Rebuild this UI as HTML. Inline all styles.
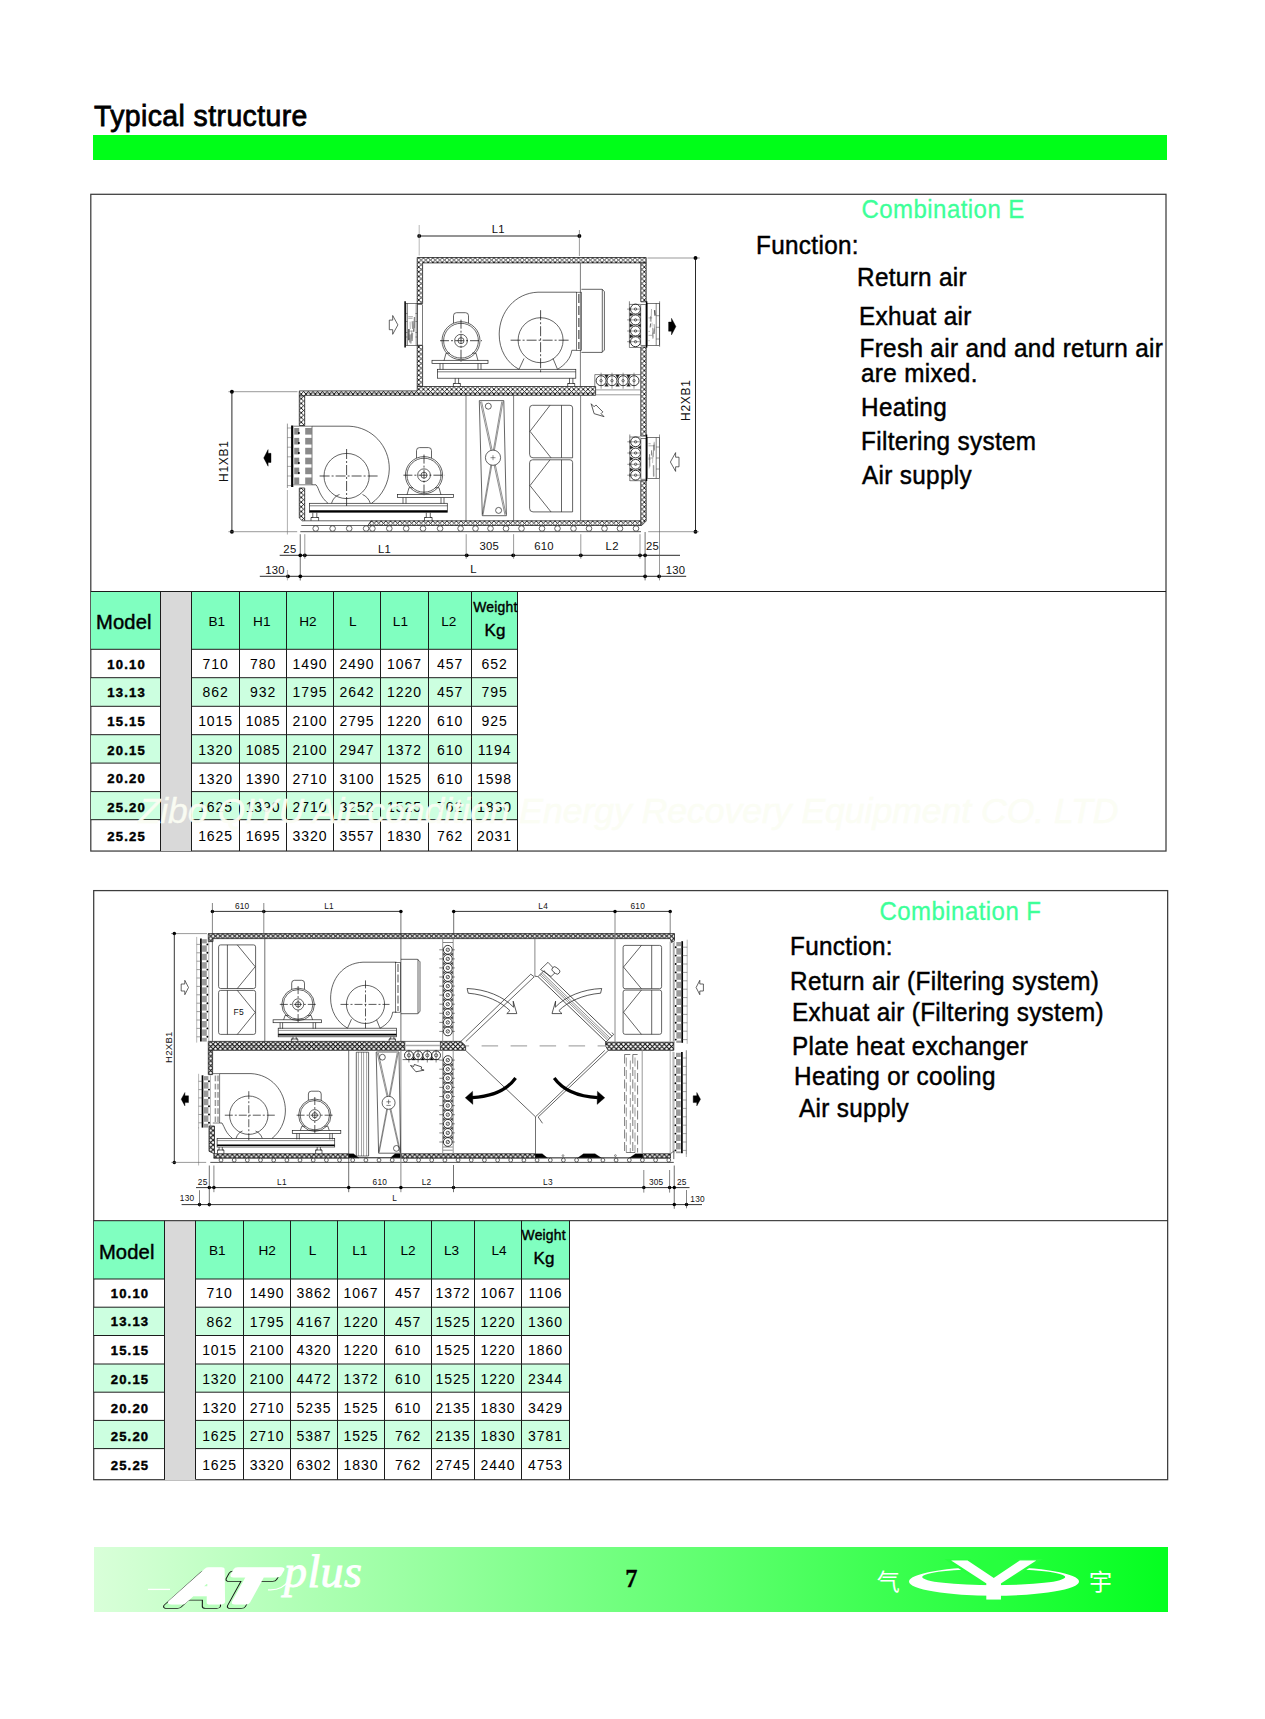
<!DOCTYPE html>
<html lang="en"><head><meta charset="utf-8"><title>Typical structure</title>
<style>
html,body{margin:0;padding:0;background:#fff;}
body{width:1265px;height:1719px;position:relative;overflow:hidden;font-family:"Liberation Sans","Noto Sans CJK SC",sans-serif;}
.t{position:absolute;white-space:nowrap;}
.r{position:absolute;}
svg{position:absolute;overflow:visible;}
svg text{font-family:"Liberation Sans",sans-serif;}
</style></head><body>
<div class="t" style="left:94.00px;top:99.70px;font-size:28.4px;line-height:32.63px;color:#000;-webkit-text-stroke:0.75px #000;letter-spacing:0.42px;transform:scaleY(1.05);transform-origin:0 78.76%;">Typical structure</div>
<div class="r" style="left:93px;top:135px;width:1074px;height:25px;background:#00fe18"></div>
<svg style="left:0;top:0" width="1265" height="1719" viewBox="0 0 1265 1719"><g fill="none" stroke="#3c3c3c" stroke-width="1.25"><rect x="90.8" y="194.3" width="1075.20" height="656.75"/><rect x="93.7" y="890.6" width="1073.95" height="589.10"/></g></svg>
<div class="r" style="left:90.8px;top:591.5px;width:69.7px;height:57.799999999999955px;background:#80ffc0"></div>
<div class="r" style="left:191.5px;top:591.5px;width:326.0px;height:57.799999999999955px;background:#80ffc0"></div>
<div class="r" style="left:160.5px;top:591.5px;width:31.0px;height:259.5px;background:#d9d9d9"></div>
<div class="r" style="left:90.8px;top:677.70px;width:69.7px;height:28.60px;background:#ccffe0"></div>
<div class="r" style="left:191.5px;top:677.70px;width:326.0px;height:28.60px;background:#ccffe0"></div>
<div class="r" style="left:90.8px;top:734.70px;width:69.7px;height:28.40px;background:#ccffe0"></div>
<div class="r" style="left:191.5px;top:734.70px;width:326.0px;height:28.40px;background:#ccffe0"></div>
<div class="r" style="left:90.8px;top:791.60px;width:69.7px;height:28.10px;background:#ccffe0"></div>
<div class="r" style="left:191.5px;top:791.60px;width:326.0px;height:28.10px;background:#ccffe0"></div>
<svg style="left:0;top:0" width="1265" height="1719" viewBox="0 0 1265 1719"><g stroke="#1c1c1c" stroke-width="1" fill="none"><path d="M90.8 591.5H1166"/><path d="M90.8 649.30H160.5M191.5 649.30H517.5"/><path d="M90.8 677.70H160.5M191.5 677.70H517.5"/><path d="M90.8 706.30H160.5M191.5 706.30H517.5"/><path d="M90.8 734.70H160.5M191.5 734.70H517.5"/><path d="M90.8 763.10H160.5M191.5 763.10H517.5"/><path d="M90.8 791.60H160.5M191.5 791.60H517.5"/><path d="M90.8 819.70H160.5M191.5 819.70H517.5"/><path d="M160.5 591.5V851"/><path d="M191.5 591.5V851"/><path d="M239.5 591.5V851"/><path d="M286.5 591.5V851"/><path d="M333.5 591.5V851"/><path d="M380.5 591.5V851"/><path d="M428.5 591.5V851"/><path d="M471.5 591.5V851"/><path d="M517.5 591.5V851"/></g></svg>
<div class="t" style="left:96.00px;top:611.12px;font-size:20.2px;line-height:23.21px;color:#000;-webkit-text-stroke:0.45px #000;letter-spacing:0.15px;">Model</div>
<div class="t" style="left:-83.30px;width:600px;text-align:center;top:614.49px;font-size:13.6px;line-height:15.63px;color:#000;">B1</div>
<div class="t" style="left:-38.20px;width:600px;text-align:center;top:614.49px;font-size:13.6px;line-height:15.63px;color:#000;">H1</div>
<div class="t" style="left:8.00px;width:600px;text-align:center;top:614.49px;font-size:13.6px;line-height:15.63px;color:#000;">H2</div>
<div class="t" style="left:52.70px;width:600px;text-align:center;top:614.49px;font-size:13.6px;line-height:15.63px;color:#000;">L</div>
<div class="t" style="left:100.40px;width:600px;text-align:center;top:614.49px;font-size:13.6px;line-height:15.63px;color:#000;">L1</div>
<div class="t" style="left:148.70px;width:600px;text-align:center;top:614.49px;font-size:13.6px;line-height:15.63px;color:#000;">L2</div>
<div class="t" style="left:473.30px;top:599.52px;font-size:13.9px;line-height:15.97px;color:#000;-webkit-text-stroke:0.4px #000;letter-spacing:0.2px;">Weight</div>
<div class="t" style="left:484.60px;top:620.82px;font-size:17px;line-height:19.53px;color:#000;-webkit-text-stroke:0.4px #000;">Kg</div>
<div class="t" style="left:-173.45px;width:600px;text-align:center;top:656.54px;font-size:13.1px;line-height:15.05px;color:#000;-webkit-text-stroke:0.42px #000;font-weight:bold;letter-spacing:1.15px;">10.10</div>
<div class="t" style="left:-84.40px;width:600px;text-align:center;top:655.73px;font-size:14px;line-height:16.09px;color:#000;letter-spacing:0.95px;">710</div>
<div class="t" style="left:-36.90px;width:600px;text-align:center;top:655.73px;font-size:14px;line-height:16.09px;color:#000;letter-spacing:0.95px;">780</div>
<div class="t" style="left:10.10px;width:600px;text-align:center;top:655.73px;font-size:14px;line-height:16.09px;color:#000;letter-spacing:0.95px;">1490</div>
<div class="t" style="left:57.10px;width:600px;text-align:center;top:655.73px;font-size:14px;line-height:16.09px;color:#000;letter-spacing:0.95px;">2490</div>
<div class="t" style="left:104.60px;width:600px;text-align:center;top:655.73px;font-size:14px;line-height:16.09px;color:#000;letter-spacing:0.95px;">1067</div>
<div class="t" style="left:150.10px;width:600px;text-align:center;top:655.73px;font-size:14px;line-height:16.09px;color:#000;letter-spacing:0.95px;">457</div>
<div class="t" style="left:194.60px;width:600px;text-align:center;top:655.73px;font-size:14px;line-height:16.09px;color:#000;letter-spacing:0.95px;">652</div>
<div class="t" style="left:-173.45px;width:600px;text-align:center;top:685.24px;font-size:13.1px;line-height:15.05px;color:#000;-webkit-text-stroke:0.42px #000;font-weight:bold;letter-spacing:1.15px;">13.13</div>
<div class="t" style="left:-84.40px;width:600px;text-align:center;top:684.43px;font-size:14px;line-height:16.09px;color:#000;letter-spacing:0.95px;">862</div>
<div class="t" style="left:-36.90px;width:600px;text-align:center;top:684.43px;font-size:14px;line-height:16.09px;color:#000;letter-spacing:0.95px;">932</div>
<div class="t" style="left:10.10px;width:600px;text-align:center;top:684.43px;font-size:14px;line-height:16.09px;color:#000;letter-spacing:0.95px;">1795</div>
<div class="t" style="left:57.10px;width:600px;text-align:center;top:684.43px;font-size:14px;line-height:16.09px;color:#000;letter-spacing:0.95px;">2642</div>
<div class="t" style="left:104.60px;width:600px;text-align:center;top:684.43px;font-size:14px;line-height:16.09px;color:#000;letter-spacing:0.95px;">1220</div>
<div class="t" style="left:150.10px;width:600px;text-align:center;top:684.43px;font-size:14px;line-height:16.09px;color:#000;letter-spacing:0.95px;">457</div>
<div class="t" style="left:194.60px;width:600px;text-align:center;top:684.43px;font-size:14px;line-height:16.09px;color:#000;letter-spacing:0.95px;">795</div>
<div class="t" style="left:-173.45px;width:600px;text-align:center;top:713.94px;font-size:13.1px;line-height:15.05px;color:#000;-webkit-text-stroke:0.42px #000;font-weight:bold;letter-spacing:1.15px;">15.15</div>
<div class="t" style="left:-84.40px;width:600px;text-align:center;top:713.13px;font-size:14px;line-height:16.09px;color:#000;letter-spacing:0.95px;">1015</div>
<div class="t" style="left:-36.90px;width:600px;text-align:center;top:713.13px;font-size:14px;line-height:16.09px;color:#000;letter-spacing:0.95px;">1085</div>
<div class="t" style="left:10.10px;width:600px;text-align:center;top:713.13px;font-size:14px;line-height:16.09px;color:#000;letter-spacing:0.95px;">2100</div>
<div class="t" style="left:57.10px;width:600px;text-align:center;top:713.13px;font-size:14px;line-height:16.09px;color:#000;letter-spacing:0.95px;">2795</div>
<div class="t" style="left:104.60px;width:600px;text-align:center;top:713.13px;font-size:14px;line-height:16.09px;color:#000;letter-spacing:0.95px;">1220</div>
<div class="t" style="left:150.10px;width:600px;text-align:center;top:713.13px;font-size:14px;line-height:16.09px;color:#000;letter-spacing:0.95px;">610</div>
<div class="t" style="left:194.60px;width:600px;text-align:center;top:713.13px;font-size:14px;line-height:16.09px;color:#000;letter-spacing:0.95px;">925</div>
<div class="t" style="left:-173.45px;width:600px;text-align:center;top:742.64px;font-size:13.1px;line-height:15.05px;color:#000;-webkit-text-stroke:0.42px #000;font-weight:bold;letter-spacing:1.15px;">20.15</div>
<div class="t" style="left:-84.40px;width:600px;text-align:center;top:741.83px;font-size:14px;line-height:16.09px;color:#000;letter-spacing:0.95px;">1320</div>
<div class="t" style="left:-36.90px;width:600px;text-align:center;top:741.83px;font-size:14px;line-height:16.09px;color:#000;letter-spacing:0.95px;">1085</div>
<div class="t" style="left:10.10px;width:600px;text-align:center;top:741.83px;font-size:14px;line-height:16.09px;color:#000;letter-spacing:0.95px;">2100</div>
<div class="t" style="left:57.10px;width:600px;text-align:center;top:741.83px;font-size:14px;line-height:16.09px;color:#000;letter-spacing:0.95px;">2947</div>
<div class="t" style="left:104.60px;width:600px;text-align:center;top:741.83px;font-size:14px;line-height:16.09px;color:#000;letter-spacing:0.95px;">1372</div>
<div class="t" style="left:150.10px;width:600px;text-align:center;top:741.83px;font-size:14px;line-height:16.09px;color:#000;letter-spacing:0.95px;">610</div>
<div class="t" style="left:194.60px;width:600px;text-align:center;top:741.83px;font-size:14px;line-height:16.09px;color:#000;letter-spacing:0.95px;">1194</div>
<div class="t" style="left:-173.45px;width:600px;text-align:center;top:771.34px;font-size:13.1px;line-height:15.05px;color:#000;-webkit-text-stroke:0.42px #000;font-weight:bold;letter-spacing:1.15px;">20.20</div>
<div class="t" style="left:-84.40px;width:600px;text-align:center;top:770.53px;font-size:14px;line-height:16.09px;color:#000;letter-spacing:0.95px;">1320</div>
<div class="t" style="left:-36.90px;width:600px;text-align:center;top:770.53px;font-size:14px;line-height:16.09px;color:#000;letter-spacing:0.95px;">1390</div>
<div class="t" style="left:10.10px;width:600px;text-align:center;top:770.53px;font-size:14px;line-height:16.09px;color:#000;letter-spacing:0.95px;">2710</div>
<div class="t" style="left:57.10px;width:600px;text-align:center;top:770.53px;font-size:14px;line-height:16.09px;color:#000;letter-spacing:0.95px;">3100</div>
<div class="t" style="left:104.60px;width:600px;text-align:center;top:770.53px;font-size:14px;line-height:16.09px;color:#000;letter-spacing:0.95px;">1525</div>
<div class="t" style="left:150.10px;width:600px;text-align:center;top:770.53px;font-size:14px;line-height:16.09px;color:#000;letter-spacing:0.95px;">610</div>
<div class="t" style="left:194.60px;width:600px;text-align:center;top:770.53px;font-size:14px;line-height:16.09px;color:#000;letter-spacing:0.95px;">1598</div>
<div class="t" style="left:-173.45px;width:600px;text-align:center;top:800.04px;font-size:13.1px;line-height:15.05px;color:#000;-webkit-text-stroke:0.42px #000;font-weight:bold;letter-spacing:1.15px;">25.20</div>
<div class="t" style="left:-84.40px;width:600px;text-align:center;top:799.23px;font-size:14px;line-height:16.09px;color:#000;letter-spacing:0.95px;">1625</div>
<div class="t" style="left:-36.90px;width:600px;text-align:center;top:799.23px;font-size:14px;line-height:16.09px;color:#000;letter-spacing:0.95px;">1390</div>
<div class="t" style="left:10.10px;width:600px;text-align:center;top:799.23px;font-size:14px;line-height:16.09px;color:#000;letter-spacing:0.95px;">2710</div>
<div class="t" style="left:57.10px;width:600px;text-align:center;top:799.23px;font-size:14px;line-height:16.09px;color:#000;letter-spacing:0.95px;">3252</div>
<div class="t" style="left:104.60px;width:600px;text-align:center;top:799.23px;font-size:14px;line-height:16.09px;color:#000;letter-spacing:0.95px;">1525</div>
<div class="t" style="left:150.10px;width:600px;text-align:center;top:799.23px;font-size:14px;line-height:16.09px;color:#000;letter-spacing:0.95px;">762</div>
<div class="t" style="left:194.60px;width:600px;text-align:center;top:799.23px;font-size:14px;line-height:16.09px;color:#000;letter-spacing:0.95px;">1830</div>
<div class="t" style="left:-173.45px;width:600px;text-align:center;top:828.74px;font-size:13.1px;line-height:15.05px;color:#000;-webkit-text-stroke:0.42px #000;font-weight:bold;letter-spacing:1.15px;">25.25</div>
<div class="t" style="left:-84.40px;width:600px;text-align:center;top:827.93px;font-size:14px;line-height:16.09px;color:#000;letter-spacing:0.95px;">1625</div>
<div class="t" style="left:-36.90px;width:600px;text-align:center;top:827.93px;font-size:14px;line-height:16.09px;color:#000;letter-spacing:0.95px;">1695</div>
<div class="t" style="left:10.10px;width:600px;text-align:center;top:827.93px;font-size:14px;line-height:16.09px;color:#000;letter-spacing:0.95px;">3320</div>
<div class="t" style="left:57.10px;width:600px;text-align:center;top:827.93px;font-size:14px;line-height:16.09px;color:#000;letter-spacing:0.95px;">3557</div>
<div class="t" style="left:104.60px;width:600px;text-align:center;top:827.93px;font-size:14px;line-height:16.09px;color:#000;letter-spacing:0.95px;">1830</div>
<div class="t" style="left:150.10px;width:600px;text-align:center;top:827.93px;font-size:14px;line-height:16.09px;color:#000;letter-spacing:0.95px;">762</div>
<div class="t" style="left:194.60px;width:600px;text-align:center;top:827.93px;font-size:14px;line-height:16.09px;color:#000;letter-spacing:0.95px;">2031</div>
<div class="r" style="left:93.7px;top:1220.7px;width:70.8px;height:58.299999999999955px;background:#80ffc0"></div>
<div class="r" style="left:195.5px;top:1220.7px;width:374.0px;height:58.299999999999955px;background:#80ffc0"></div>
<div class="r" style="left:164.5px;top:1220.7px;width:31.0px;height:258.89999999999986px;background:#d9d9d9"></div>
<div class="r" style="left:93.7px;top:1307.20px;width:70.8px;height:28.30px;background:#ccffe0"></div>
<div class="r" style="left:195.5px;top:1307.20px;width:374.0px;height:28.30px;background:#ccffe0"></div>
<div class="r" style="left:93.7px;top:1364.00px;width:70.8px;height:28.20px;background:#ccffe0"></div>
<div class="r" style="left:195.5px;top:1364.00px;width:374.0px;height:28.20px;background:#ccffe0"></div>
<div class="r" style="left:93.7px;top:1420.40px;width:70.8px;height:28.20px;background:#ccffe0"></div>
<div class="r" style="left:195.5px;top:1420.40px;width:374.0px;height:28.20px;background:#ccffe0"></div>
<svg style="left:0;top:0" width="1265" height="1719" viewBox="0 0 1265 1719"><g stroke="#1c1c1c" stroke-width="1" fill="none"><path d="M93.7 1220.7H1167.6"/><path d="M93.7 1279.00H164.5M195.5 1279.00H569.5"/><path d="M93.7 1307.20H164.5M195.5 1307.20H569.5"/><path d="M93.7 1335.50H164.5M195.5 1335.50H569.5"/><path d="M93.7 1364.00H164.5M195.5 1364.00H569.5"/><path d="M93.7 1392.20H164.5M195.5 1392.20H569.5"/><path d="M93.7 1420.40H164.5M195.5 1420.40H569.5"/><path d="M93.7 1448.60H164.5M195.5 1448.60H569.5"/><path d="M164.5 1220.7V1479.6"/><path d="M195.5 1220.7V1479.6"/><path d="M243.5 1220.7V1479.6"/><path d="M290.5 1220.7V1479.6"/><path d="M337.5 1220.7V1479.6"/><path d="M384.5 1220.7V1479.6"/><path d="M431.5 1220.7V1479.6"/><path d="M474.5 1220.7V1479.6"/><path d="M521.5 1220.7V1479.6"/><path d="M569.5 1220.7V1479.6"/></g></svg>
<div class="t" style="left:98.90px;top:1240.57px;font-size:20.2px;line-height:23.21px;color:#000;-webkit-text-stroke:0.45px #000;letter-spacing:0.15px;">Model</div>
<div class="t" style="left:-82.70px;width:600px;text-align:center;top:1243.19px;font-size:13.6px;line-height:15.63px;color:#000;">B1</div>
<div class="t" style="left:-32.90px;width:600px;text-align:center;top:1243.19px;font-size:13.6px;line-height:15.63px;color:#000;">H2</div>
<div class="t" style="left:12.50px;width:600px;text-align:center;top:1243.19px;font-size:13.6px;line-height:15.63px;color:#000;">L</div>
<div class="t" style="left:59.80px;width:600px;text-align:center;top:1243.19px;font-size:13.6px;line-height:15.63px;color:#000;">L1</div>
<div class="t" style="left:108.00px;width:600px;text-align:center;top:1243.19px;font-size:13.6px;line-height:15.63px;color:#000;">L2</div>
<div class="t" style="left:151.60px;width:600px;text-align:center;top:1243.19px;font-size:13.6px;line-height:15.63px;color:#000;">L3</div>
<div class="t" style="left:199.10px;width:600px;text-align:center;top:1243.19px;font-size:13.6px;line-height:15.63px;color:#000;">L4</div>
<div class="t" style="left:521.60px;top:1228.02px;font-size:13.9px;line-height:15.97px;color:#000;-webkit-text-stroke:0.4px #000;letter-spacing:0.2px;">Weight</div>
<div class="t" style="left:533.60px;top:1248.91px;font-size:17px;line-height:19.53px;color:#000;-webkit-text-stroke:0.4px #000;">Kg</div>
<div class="t" style="left:-170.00px;width:600px;text-align:center;top:1285.64px;font-size:13.1px;line-height:15.05px;color:#000;-webkit-text-stroke:0.42px #000;font-weight:bold;letter-spacing:1.15px;">10.10</div>
<div class="t" style="left:-80.40px;width:600px;text-align:center;top:1284.83px;font-size:14px;line-height:16.09px;color:#000;letter-spacing:0.95px;">710</div>
<div class="t" style="left:-32.90px;width:600px;text-align:center;top:1284.83px;font-size:14px;line-height:16.09px;color:#000;letter-spacing:0.95px;">1490</div>
<div class="t" style="left:14.10px;width:600px;text-align:center;top:1284.83px;font-size:14px;line-height:16.09px;color:#000;letter-spacing:0.95px;">3862</div>
<div class="t" style="left:61.10px;width:600px;text-align:center;top:1284.83px;font-size:14px;line-height:16.09px;color:#000;letter-spacing:0.95px;">1067</div>
<div class="t" style="left:108.10px;width:600px;text-align:center;top:1284.83px;font-size:14px;line-height:16.09px;color:#000;letter-spacing:0.95px;">457</div>
<div class="t" style="left:153.10px;width:600px;text-align:center;top:1284.83px;font-size:14px;line-height:16.09px;color:#000;letter-spacing:0.95px;">1372</div>
<div class="t" style="left:198.10px;width:600px;text-align:center;top:1284.83px;font-size:14px;line-height:16.09px;color:#000;letter-spacing:0.95px;">1067</div>
<div class="t" style="left:245.60px;width:600px;text-align:center;top:1284.83px;font-size:14px;line-height:16.09px;color:#000;letter-spacing:0.95px;">1106</div>
<div class="t" style="left:-170.00px;width:600px;text-align:center;top:1314.36px;font-size:13.1px;line-height:15.05px;color:#000;-webkit-text-stroke:0.42px #000;font-weight:bold;letter-spacing:1.15px;">13.13</div>
<div class="t" style="left:-80.40px;width:600px;text-align:center;top:1313.55px;font-size:14px;line-height:16.09px;color:#000;letter-spacing:0.95px;">862</div>
<div class="t" style="left:-32.90px;width:600px;text-align:center;top:1313.55px;font-size:14px;line-height:16.09px;color:#000;letter-spacing:0.95px;">1795</div>
<div class="t" style="left:14.10px;width:600px;text-align:center;top:1313.55px;font-size:14px;line-height:16.09px;color:#000;letter-spacing:0.95px;">4167</div>
<div class="t" style="left:61.10px;width:600px;text-align:center;top:1313.55px;font-size:14px;line-height:16.09px;color:#000;letter-spacing:0.95px;">1220</div>
<div class="t" style="left:108.10px;width:600px;text-align:center;top:1313.55px;font-size:14px;line-height:16.09px;color:#000;letter-spacing:0.95px;">457</div>
<div class="t" style="left:153.10px;width:600px;text-align:center;top:1313.55px;font-size:14px;line-height:16.09px;color:#000;letter-spacing:0.95px;">1525</div>
<div class="t" style="left:198.10px;width:600px;text-align:center;top:1313.55px;font-size:14px;line-height:16.09px;color:#000;letter-spacing:0.95px;">1220</div>
<div class="t" style="left:245.60px;width:600px;text-align:center;top:1313.55px;font-size:14px;line-height:16.09px;color:#000;letter-spacing:0.95px;">1360</div>
<div class="t" style="left:-170.00px;width:600px;text-align:center;top:1343.08px;font-size:13.1px;line-height:15.05px;color:#000;-webkit-text-stroke:0.42px #000;font-weight:bold;letter-spacing:1.15px;">15.15</div>
<div class="t" style="left:-80.40px;width:600px;text-align:center;top:1342.27px;font-size:14px;line-height:16.09px;color:#000;letter-spacing:0.95px;">1015</div>
<div class="t" style="left:-32.90px;width:600px;text-align:center;top:1342.27px;font-size:14px;line-height:16.09px;color:#000;letter-spacing:0.95px;">2100</div>
<div class="t" style="left:14.10px;width:600px;text-align:center;top:1342.27px;font-size:14px;line-height:16.09px;color:#000;letter-spacing:0.95px;">4320</div>
<div class="t" style="left:61.10px;width:600px;text-align:center;top:1342.27px;font-size:14px;line-height:16.09px;color:#000;letter-spacing:0.95px;">1220</div>
<div class="t" style="left:108.10px;width:600px;text-align:center;top:1342.27px;font-size:14px;line-height:16.09px;color:#000;letter-spacing:0.95px;">610</div>
<div class="t" style="left:153.10px;width:600px;text-align:center;top:1342.27px;font-size:14px;line-height:16.09px;color:#000;letter-spacing:0.95px;">1525</div>
<div class="t" style="left:198.10px;width:600px;text-align:center;top:1342.27px;font-size:14px;line-height:16.09px;color:#000;letter-spacing:0.95px;">1220</div>
<div class="t" style="left:245.60px;width:600px;text-align:center;top:1342.27px;font-size:14px;line-height:16.09px;color:#000;letter-spacing:0.95px;">1860</div>
<div class="t" style="left:-170.00px;width:600px;text-align:center;top:1371.80px;font-size:13.1px;line-height:15.05px;color:#000;-webkit-text-stroke:0.42px #000;font-weight:bold;letter-spacing:1.15px;">20.15</div>
<div class="t" style="left:-80.40px;width:600px;text-align:center;top:1370.99px;font-size:14px;line-height:16.09px;color:#000;letter-spacing:0.95px;">1320</div>
<div class="t" style="left:-32.90px;width:600px;text-align:center;top:1370.99px;font-size:14px;line-height:16.09px;color:#000;letter-spacing:0.95px;">2100</div>
<div class="t" style="left:14.10px;width:600px;text-align:center;top:1370.99px;font-size:14px;line-height:16.09px;color:#000;letter-spacing:0.95px;">4472</div>
<div class="t" style="left:61.10px;width:600px;text-align:center;top:1370.99px;font-size:14px;line-height:16.09px;color:#000;letter-spacing:0.95px;">1372</div>
<div class="t" style="left:108.10px;width:600px;text-align:center;top:1370.99px;font-size:14px;line-height:16.09px;color:#000;letter-spacing:0.95px;">610</div>
<div class="t" style="left:153.10px;width:600px;text-align:center;top:1370.99px;font-size:14px;line-height:16.09px;color:#000;letter-spacing:0.95px;">1525</div>
<div class="t" style="left:198.10px;width:600px;text-align:center;top:1370.99px;font-size:14px;line-height:16.09px;color:#000;letter-spacing:0.95px;">1220</div>
<div class="t" style="left:245.60px;width:600px;text-align:center;top:1370.99px;font-size:14px;line-height:16.09px;color:#000;letter-spacing:0.95px;">2344</div>
<div class="t" style="left:-170.00px;width:600px;text-align:center;top:1400.52px;font-size:13.1px;line-height:15.05px;color:#000;-webkit-text-stroke:0.42px #000;font-weight:bold;letter-spacing:1.15px;">20.20</div>
<div class="t" style="left:-80.40px;width:600px;text-align:center;top:1399.71px;font-size:14px;line-height:16.09px;color:#000;letter-spacing:0.95px;">1320</div>
<div class="t" style="left:-32.90px;width:600px;text-align:center;top:1399.71px;font-size:14px;line-height:16.09px;color:#000;letter-spacing:0.95px;">2710</div>
<div class="t" style="left:14.10px;width:600px;text-align:center;top:1399.71px;font-size:14px;line-height:16.09px;color:#000;letter-spacing:0.95px;">5235</div>
<div class="t" style="left:61.10px;width:600px;text-align:center;top:1399.71px;font-size:14px;line-height:16.09px;color:#000;letter-spacing:0.95px;">1525</div>
<div class="t" style="left:108.10px;width:600px;text-align:center;top:1399.71px;font-size:14px;line-height:16.09px;color:#000;letter-spacing:0.95px;">610</div>
<div class="t" style="left:153.10px;width:600px;text-align:center;top:1399.71px;font-size:14px;line-height:16.09px;color:#000;letter-spacing:0.95px;">2135</div>
<div class="t" style="left:198.10px;width:600px;text-align:center;top:1399.71px;font-size:14px;line-height:16.09px;color:#000;letter-spacing:0.95px;">1830</div>
<div class="t" style="left:245.60px;width:600px;text-align:center;top:1399.71px;font-size:14px;line-height:16.09px;color:#000;letter-spacing:0.95px;">3429</div>
<div class="t" style="left:-170.00px;width:600px;text-align:center;top:1429.24px;font-size:13.1px;line-height:15.05px;color:#000;-webkit-text-stroke:0.42px #000;font-weight:bold;letter-spacing:1.15px;">25.20</div>
<div class="t" style="left:-80.40px;width:600px;text-align:center;top:1428.43px;font-size:14px;line-height:16.09px;color:#000;letter-spacing:0.95px;">1625</div>
<div class="t" style="left:-32.90px;width:600px;text-align:center;top:1428.43px;font-size:14px;line-height:16.09px;color:#000;letter-spacing:0.95px;">2710</div>
<div class="t" style="left:14.10px;width:600px;text-align:center;top:1428.43px;font-size:14px;line-height:16.09px;color:#000;letter-spacing:0.95px;">5387</div>
<div class="t" style="left:61.10px;width:600px;text-align:center;top:1428.43px;font-size:14px;line-height:16.09px;color:#000;letter-spacing:0.95px;">1525</div>
<div class="t" style="left:108.10px;width:600px;text-align:center;top:1428.43px;font-size:14px;line-height:16.09px;color:#000;letter-spacing:0.95px;">762</div>
<div class="t" style="left:153.10px;width:600px;text-align:center;top:1428.43px;font-size:14px;line-height:16.09px;color:#000;letter-spacing:0.95px;">2135</div>
<div class="t" style="left:198.10px;width:600px;text-align:center;top:1428.43px;font-size:14px;line-height:16.09px;color:#000;letter-spacing:0.95px;">1830</div>
<div class="t" style="left:245.60px;width:600px;text-align:center;top:1428.43px;font-size:14px;line-height:16.09px;color:#000;letter-spacing:0.95px;">3781</div>
<div class="t" style="left:-170.00px;width:600px;text-align:center;top:1457.96px;font-size:13.1px;line-height:15.05px;color:#000;-webkit-text-stroke:0.42px #000;font-weight:bold;letter-spacing:1.15px;">25.25</div>
<div class="t" style="left:-80.40px;width:600px;text-align:center;top:1457.15px;font-size:14px;line-height:16.09px;color:#000;letter-spacing:0.95px;">1625</div>
<div class="t" style="left:-32.90px;width:600px;text-align:center;top:1457.15px;font-size:14px;line-height:16.09px;color:#000;letter-spacing:0.95px;">3320</div>
<div class="t" style="left:14.10px;width:600px;text-align:center;top:1457.15px;font-size:14px;line-height:16.09px;color:#000;letter-spacing:0.95px;">6302</div>
<div class="t" style="left:61.10px;width:600px;text-align:center;top:1457.15px;font-size:14px;line-height:16.09px;color:#000;letter-spacing:0.95px;">1830</div>
<div class="t" style="left:108.10px;width:600px;text-align:center;top:1457.15px;font-size:14px;line-height:16.09px;color:#000;letter-spacing:0.95px;">762</div>
<div class="t" style="left:153.10px;width:600px;text-align:center;top:1457.15px;font-size:14px;line-height:16.09px;color:#000;letter-spacing:0.95px;">2745</div>
<div class="t" style="left:198.10px;width:600px;text-align:center;top:1457.15px;font-size:14px;line-height:16.09px;color:#000;letter-spacing:0.95px;">2440</div>
<div class="t" style="left:245.60px;width:600px;text-align:center;top:1457.15px;font-size:14px;line-height:16.09px;color:#000;letter-spacing:0.95px;">4753</div>
<div class="t" style="left:861.50px;top:196.08px;font-size:24px;line-height:27.58px;color:#3dff99;-webkit-text-stroke:0.3px #3dff99;letter-spacing:0.45px;transform:scaleY(1.085);transform-origin:0 78.76%;">Combination E</div>
<div class="t" style="left:756.00px;top:231.61px;font-size:24.3px;line-height:27.92px;color:#000;-webkit-text-stroke:0.45px #000;letter-spacing:0.33px;transform:scaleY(1.06);transform-origin:0 78.76%;">Function:</div>
<div class="t" style="left:857.00px;top:263.61px;font-size:24.3px;line-height:27.92px;color:#000;-webkit-text-stroke:0.45px #000;letter-spacing:0.33px;transform:scaleY(1.06);transform-origin:0 78.76%;">Return air</div>
<div class="t" style="left:859.00px;top:302.61px;font-size:24.3px;line-height:27.92px;color:#000;-webkit-text-stroke:0.45px #000;letter-spacing:0.33px;transform:scaleY(1.06);transform-origin:0 78.76%;">Exhuat air</div>
<div class="t" style="left:859.50px;top:335.01px;font-size:24.3px;line-height:27.92px;color:#000;-webkit-text-stroke:0.45px #000;letter-spacing:0.33px;transform:scaleY(1.06);transform-origin:0 78.76%;">Fresh air and and return air</div>
<div class="t" style="left:861.00px;top:360.01px;font-size:24.3px;line-height:27.92px;color:#000;-webkit-text-stroke:0.45px #000;letter-spacing:0.33px;transform:scaleY(1.06);transform-origin:0 78.76%;">are mixed.</div>
<div class="t" style="left:861.00px;top:394.01px;font-size:24.3px;line-height:27.92px;color:#000;-webkit-text-stroke:0.45px #000;letter-spacing:0.33px;transform:scaleY(1.06);transform-origin:0 78.76%;">Heating</div>
<div class="t" style="left:861.00px;top:428.01px;font-size:24.3px;line-height:27.92px;color:#000;-webkit-text-stroke:0.45px #000;letter-spacing:0.33px;transform:scaleY(1.06);transform-origin:0 78.76%;">Filtering system</div>
<div class="t" style="left:862.00px;top:462.01px;font-size:24.3px;line-height:27.92px;color:#000;-webkit-text-stroke:0.45px #000;letter-spacing:0.33px;transform:scaleY(1.06);transform-origin:0 78.76%;">Air supply</div>
<div class="t" style="left:879.50px;top:898.28px;font-size:24px;line-height:27.58px;color:#3dff99;-webkit-text-stroke:0.3px #3dff99;letter-spacing:0.45px;transform:scaleY(1.085);transform-origin:0 78.76%;">Combination F</div>
<div class="t" style="left:790.00px;top:933.01px;font-size:24.3px;line-height:27.92px;color:#000;-webkit-text-stroke:0.45px #000;letter-spacing:0.33px;transform:scaleY(1.06);transform-origin:0 78.76%;">Function:</div>
<div class="t" style="left:790.00px;top:967.51px;font-size:24.3px;line-height:27.92px;color:#000;-webkit-text-stroke:0.45px #000;letter-spacing:0.33px;transform:scaleY(1.06);transform-origin:0 78.76%;">Return air (Filtering system)</div>
<div class="t" style="left:792.00px;top:998.51px;font-size:24.3px;line-height:27.92px;color:#000;-webkit-text-stroke:0.45px #000;letter-spacing:0.33px;transform:scaleY(1.06);transform-origin:0 78.76%;">Exhuat air (Filtering system)</div>
<div class="t" style="left:792.00px;top:1032.51px;font-size:24.3px;line-height:27.92px;color:#000;-webkit-text-stroke:0.45px #000;letter-spacing:0.33px;transform:scaleY(1.06);transform-origin:0 78.76%;">Plate heat exchanger</div>
<div class="t" style="left:794.00px;top:1062.51px;font-size:24.3px;line-height:27.92px;color:#000;-webkit-text-stroke:0.45px #000;letter-spacing:0.33px;transform:scaleY(1.06);transform-origin:0 78.76%;">Heating or cooling</div>
<div class="t" style="left:799.00px;top:1094.51px;font-size:24.3px;line-height:27.92px;color:#000;-webkit-text-stroke:0.45px #000;letter-spacing:0.33px;transform:scaleY(1.06);transform-origin:0 78.76%;">Air supply</div>
<div class="t" style="left:138.50px;top:791.37px;font-size:35.5px;line-height:40.79px;color:#fbfdf4;-webkit-text-stroke:0.35px #fbfdf4;font-style:italic;opacity:.95;">Zibo QIYU Air-condition Energy Recovery Equipment CO. LTD</div>
<div class="r" style="left:94px;top:1547.4px;width:1074px;height:64.8px;background:linear-gradient(90deg,#d9ffd9,#04ff20)"></div>
<div class="t" style="left:331.30px;width:600px;text-align:center;top:1564.82px;font-size:24.4px;line-height:28.04px;color:#000;-webkit-text-stroke:0.3px #000;font-weight:bold;font-family:'Liberation Serif',serif;">7</div>
<svg style="left:0;top:0" width="1265" height="1719" viewBox="0 0 1265 1719" fill="none" stroke-linecap="butt">
<defs><pattern id="hx" width="4.7" height="4.7" patternUnits="userSpaceOnUse" patternTransform="translate(423.45 257.7)"><rect width="4.7" height="4.7" fill="#fff"/><path d="M-1 -1L5.7 5.7M5.7 -1L-1 5.7" stroke="#111" stroke-width="0.9"/></pattern></defs>
<path d="M417.2 257.5H646.2V262.9H422.59999999999997V303.5H417.2Z" fill="url(#hx)" stroke="#222" stroke-width="0.8"/>
<path d="M417.2 345.5H422.59999999999997V386.5H417.2Z" fill="url(#hx)" stroke="#222" stroke-width="0.8"/>
<path d="M640.8000000000001 262.9H646.2V301.8H640.8000000000001Z" fill="url(#hx)" stroke="#222" stroke-width="0.8"/>
<path d="M640.8000000000001 347H646.2V436H640.8000000000001Z" fill="url(#hx)" stroke="#222" stroke-width="0.8"/>
<path d="M640.8000000000001 480.7H646.2V521L641.7 525.5H640.8000000000001Z" fill="url(#hx)" stroke="#222" stroke-width="0.8"/>
<path d="M299.3 390.9H417.2V386.5H595.6V395.3H304.7V396H299.3Z" fill="url(#hx)" stroke="#222" stroke-width="0.8"/>
<path d="M304.7 393.2L595.6 393.2" stroke="#222" stroke-width="0.5" />
<path d="M299.3 396H304.7V425.5H299.3Z" fill="url(#hx)" stroke="#222" stroke-width="0.8"/>
<path d="M299.3 488H304.7V520.8H302.3 L299.3 518Z" fill="url(#hx)" stroke="#222" stroke-width="0.8"/>
<path d="M371 520.8H640.8000000000001V525.5H368Z" fill="url(#hx)" stroke="#222" stroke-width="0.8"/>
<path d="M304.7 520.8H371M301.3 525.5H368" stroke="#222" stroke-width="0.7" fill="none" />
<path d="M300.3 531.7L641.0 531.7" stroke="#222" stroke-width="0.8" />
<circle cx="315.7" cy="528.5" r="2.8" stroke="#222" stroke-width="0.7" fill="#fff"/>
<circle cx="332.6" cy="528.5" r="2.8" stroke="#222" stroke-width="0.7" fill="#fff"/>
<circle cx="349.2" cy="528.5" r="2.8" stroke="#222" stroke-width="0.7" fill="#fff"/>
<circle cx="366.1" cy="528.5" r="2.8" stroke="#222" stroke-width="0.7" fill="#fff"/>
<circle cx="372.4" cy="528.5" r="2.8" stroke="#222" stroke-width="0.7" fill="#fff"/>
<circle cx="389.3" cy="528.5" r="2.8" stroke="#222" stroke-width="0.7" fill="#fff"/>
<circle cx="406.2" cy="528.5" r="2.8" stroke="#222" stroke-width="0.7" fill="#fff"/>
<circle cx="423.0" cy="528.5" r="2.8" stroke="#222" stroke-width="0.7" fill="#fff"/>
<circle cx="440.1" cy="528.5" r="2.8" stroke="#222" stroke-width="0.7" fill="#fff"/>
<circle cx="460.6" cy="528.5" r="2.8" stroke="#222" stroke-width="0.7" fill="#fff"/>
<circle cx="475.5" cy="528.5" r="2.8" stroke="#222" stroke-width="0.7" fill="#fff"/>
<circle cx="490.5" cy="528.5" r="2.8" stroke="#222" stroke-width="0.7" fill="#fff"/>
<circle cx="506.0" cy="528.5" r="2.8" stroke="#222" stroke-width="0.7" fill="#fff"/>
<circle cx="521.5" cy="528.5" r="2.8" stroke="#222" stroke-width="0.7" fill="#fff"/>
<circle cx="542.0" cy="528.5" r="2.8" stroke="#222" stroke-width="0.7" fill="#fff"/>
<circle cx="557.5" cy="528.5" r="2.8" stroke="#222" stroke-width="0.7" fill="#fff"/>
<circle cx="573.5" cy="528.5" r="2.8" stroke="#222" stroke-width="0.7" fill="#fff"/>
<circle cx="589.0" cy="528.5" r="2.8" stroke="#222" stroke-width="0.7" fill="#fff"/>
<circle cx="604.5" cy="528.5" r="2.8" stroke="#222" stroke-width="0.7" fill="#fff"/>
<circle cx="620.0" cy="528.5" r="2.8" stroke="#222" stroke-width="0.7" fill="#fff"/>
<circle cx="636.0" cy="528.5" r="2.8" stroke="#222" stroke-width="0.7" fill="#fff"/>
<path d="M595.6 389.9H640.8000000000001M595.6 394.8H640.8000000000001" stroke="#555" stroke-width="0.6" fill="none" />
<path d="M466.0 395.4L466.0 520.8" stroke="#444" stroke-width="0.7" />
<path d="M513.6 395.4L513.6 520.8" stroke="#444" stroke-width="0.7" />
<path d="M580.6 395.4L580.6 520.8" stroke="#444" stroke-width="0.7" />
<path d="M580.4 263.0L580.4 386.5" stroke="#444" stroke-width="0.7" />
<rect x="405.9" y="303.3" width="11.4" height="42.0" rx="0" stroke="#222" stroke-width="0.6" fill="none"/>
<path d="M405.1 301.3L405.1 347.6" stroke="#000" stroke-width="1.5" />
<path d="M407.4 303.3V345.3M416.2 303.3V345.3" stroke="#333" stroke-width="0.6" fill="none" />
<path d="M405.9 313.5H407.4M415.4 313.5H417.3" stroke="#333" stroke-width="0.5" fill="none" />
<path d="M405.9 321.5H407.4M415.4 321.5H417.3" stroke="#333" stroke-width="0.5" fill="none" />
<path d="M405.9 332.5H407.4M415.4 332.5H417.3" stroke="#333" stroke-width="0.5" fill="none" />
<path d="M405.9 337H407.4M415.4 337H417.3" stroke="#333" stroke-width="0.5" fill="none" />
<path d="M410.1 321.7L410.3 329.0" stroke="#888" stroke-width="0.6" />
<path d="M412.5 332.8L412.1 341.0" stroke="#999" stroke-width="1.4" />
<path d="M411.6 330.6L411.3 338.9" stroke="#999" stroke-width="0.6" />
<path d="M414.2 321.0L413.7 331.7" stroke="#777" stroke-width="1.4" />
<path d="M408.9 328.9L408.8 340.3" stroke="#555" stroke-width="1.4" />
<path d="M414.5 316.9L414.4 328.0" stroke="#888" stroke-width="1.4" />
<path d="M411.4 333.6L410.9 343.6" stroke="#777" stroke-width="0.9" />
<path d="M410.0 334.5L409.9 342.5" stroke="#555" stroke-width="0.9" />
<path d="M412.3 321.3L412.8 329.0" stroke="#999" stroke-width="1.4" />
<path d="M408.3 338.7L409.5 338.7" stroke="#555" stroke-width="0.5" />
<path d="M408.3 316.7L412.9 316.7" stroke="#555" stroke-width="0.5" />
<path d="M408.3 331.1L413.5 331.1" stroke="#555" stroke-width="0.5" />
<path d="M408.3 318.3L412.6 318.3" stroke="#555" stroke-width="0.5" />
<rect x="417.6" y="304.7" width="4.9" height="40.4" rx="0" stroke="#222" stroke-width="0.6" fill="#fff"/>
<path d="M389.3 320.09999999999997H392.7V315.5L397.9 324.9L392.7 334.29999999999995V329.7H389.3Z" stroke="#222" stroke-width="0.7" fill="none" />
<path d="M453.5 323.7V315.7Q453.5 312.7 456.5 312.7H465.5Q468.5 312.7 468.5 315.7V323.7" stroke="#222" stroke-width="0.7" fill="none" />
<circle cx="461.0" cy="340.7" r="19.0" stroke="#222" stroke-width="0.7" fill="#fff"/>
<circle cx="461.0" cy="340.7" r="17.4" stroke="#222" stroke-width="0.7" fill="none"/>
<circle cx="461.0" cy="340.7" r="6.4" stroke="#222" stroke-width="0.7" fill="none"/>
<circle cx="461.0" cy="340.7" r="3.0" stroke="#222" stroke-width="0.7" fill="none"/>
<path d="M440.0 340.7L482.0 340.7" stroke="#000" stroke-width="0.7" stroke-dasharray="9 2 2 2"/>
<path d="M461.0 319.7L461.0 361.7" stroke="#000" stroke-width="0.7" stroke-dasharray="9 2 2 2"/>
<path d="M444 360.7L446 353.2H450M478 360.7L476 353.2H472" stroke="#222" stroke-width="0.7" fill="none" />
<rect x="432.0" y="360.3" width="56.0" height="3.2" rx="0" stroke="#222" stroke-width="0.7" fill="none"/>
<path d="M440 363.5v6M443 363.5v6M478 363.5v6M481 363.5v6" stroke="#222" stroke-width="0.7" fill="none" />
<circle cx="540.6" cy="340.2" r="22.5" stroke="#222" stroke-width="0.7" fill="none"/>
<path d="M510.6 340.2L570.6 340.2" stroke="#000" stroke-width="0.7" stroke-dasharray="10 2 2 2"/>
<path d="M540.6 310.2L540.6 374.2" stroke="#000" stroke-width="0.7" stroke-dasharray="10 2 2 2"/>
<path d="M576.3 292.2H538C515 293 499.5 312 499.2 334C499 350 507 363 519 369.3M576.3 350.3H571.8C571 358 565 365 557.5 369.3" stroke="#222" stroke-width="0.7" fill="none" />
<path d="M519 369.3L524 358.5M557.5 369.3L553 358.5" stroke="#222" stroke-width="0.7" fill="none" />
<rect x="576.3" y="292.2" width="5.0" height="58.1" rx="0" stroke="#222" stroke-width="0.6" fill="none"/>
<path d="M578.8 294.0L578.8 349.0" stroke="#777" stroke-width="1.6" stroke-dasharray="9 3"/>
<path d="M581.4 289.3H602L604.4 291.5V350L602 352.4H581.4M602.3 289.3V352.4" stroke="#222" stroke-width="0.7" fill="none" />
<rect x="437.4" y="369.3" width="138.4" height="8.9" rx="0" stroke="#222" stroke-width="0.7" fill="none"/>
<path d="M437.4 371.8L575.8 371.8" stroke="#222" stroke-width="0.6" />
<path d="M455.2 378.2V383.5H453.4V386.5M458.59999999999997 378.2V383.5H460.4V386.5M453.4 383.5H460.4" stroke="#222" stroke-width="0.7" fill="none" />
<path d="M569.5 378.2V383.5H567.7V386.5M572.9000000000001 378.2V383.5H574.7V386.5M567.7 383.5H574.7" stroke="#222" stroke-width="0.7" fill="none" />
<path d="M629.4 301.3V347.5M629.4 304.4H640.6M629.4 347.5H640.6" stroke="#333" stroke-width="0.6" fill="none" />
<circle cx="635.5" cy="309.1" r="5.0" stroke="#111" stroke-width="0.85" fill="none"/>
<circle cx="635.5" cy="309.1" r="1.2" stroke="#111" stroke-width="0.6" fill="none"/>
<path d="M627.1 309.1L643.1 309.1" stroke="#333" stroke-width="0.5" />
<path d="M629.5 307.5L629.5 310.7" stroke="#222" stroke-width="0.6" />
<circle cx="635.5" cy="319.9" r="5.0" stroke="#111" stroke-width="0.85" fill="none"/>
<circle cx="635.5" cy="319.9" r="1.2" stroke="#111" stroke-width="0.6" fill="none"/>
<path d="M627.1 319.9L643.1 319.9" stroke="#333" stroke-width="0.5" />
<path d="M629.5 318.3L629.5 321.5" stroke="#222" stroke-width="0.6" />
<circle cx="635.5" cy="331.0" r="5.0" stroke="#111" stroke-width="0.85" fill="none"/>
<circle cx="635.5" cy="331.0" r="1.2" stroke="#111" stroke-width="0.6" fill="none"/>
<path d="M627.1 331.0L643.1 331.0" stroke="#333" stroke-width="0.5" />
<path d="M629.5 329.4L629.5 332.6" stroke="#222" stroke-width="0.6" />
<circle cx="635.5" cy="341.7" r="5.0" stroke="#111" stroke-width="0.85" fill="none"/>
<circle cx="635.5" cy="341.7" r="1.2" stroke="#111" stroke-width="0.6" fill="none"/>
<path d="M627.1 341.7L643.1 341.7" stroke="#333" stroke-width="0.5" />
<path d="M629.5 340.1L629.5 343.3" stroke="#222" stroke-width="0.6" />
<path d="M629.9 312.7L633.3 314.5L629.9 316.3Z" stroke="#111" stroke-width="0.3" fill="#222" />
<path d="M641.1 312.7L637.7 314.5L641.1 316.3Z" stroke="#111" stroke-width="0.3" fill="#222" />
<path d="M629.9 323.65L633.3 325.45L629.9 327.25Z" stroke="#111" stroke-width="0.3" fill="#222" />
<path d="M641.1 323.65L637.7 325.45L641.1 327.25Z" stroke="#111" stroke-width="0.3" fill="#222" />
<path d="M629.9 334.55L633.3 336.35L629.9 338.15000000000003Z" stroke="#111" stroke-width="0.3" fill="#222" />
<path d="M641.1 334.55L637.7 336.35L641.1 338.15000000000003Z" stroke="#111" stroke-width="0.3" fill="#222" />
<path d="M594.8 374.6V386.3M594.8 374.6H640.6" stroke="#333" stroke-width="0.6" fill="none" />
<circle cx="601.1" cy="380.7" r="5.0" stroke="#111" stroke-width="0.85" fill="none"/>
<circle cx="601.1" cy="380.7" r="1.2" stroke="#111" stroke-width="0.6" fill="none"/>
<path d="M601.1 372.7L601.1 388.7" stroke="#333" stroke-width="0.5" />
<circle cx="612.0" cy="380.7" r="5.0" stroke="#111" stroke-width="0.85" fill="none"/>
<circle cx="612.0" cy="380.7" r="1.2" stroke="#111" stroke-width="0.6" fill="none"/>
<path d="M612.0 372.7L612.0 388.7" stroke="#333" stroke-width="0.5" />
<circle cx="623.1" cy="380.7" r="5.0" stroke="#111" stroke-width="0.85" fill="none"/>
<circle cx="623.1" cy="380.7" r="1.2" stroke="#111" stroke-width="0.6" fill="none"/>
<path d="M623.1 372.7L623.1 388.7" stroke="#333" stroke-width="0.5" />
<circle cx="634.0" cy="380.7" r="5.0" stroke="#111" stroke-width="0.85" fill="none"/>
<circle cx="634.0" cy="380.7" r="1.2" stroke="#111" stroke-width="0.6" fill="none"/>
<path d="M634.0 372.7L634.0 388.7" stroke="#333" stroke-width="0.5" />
<path d="M604.75 375.09999999999997L606.55 378.5L608.3499999999999 375.09999999999997Z" stroke="#111" stroke-width="0.3" fill="#222" />
<path d="M604.75 386.3L606.55 382.9L608.3499999999999 386.3Z" stroke="#111" stroke-width="0.3" fill="#222" />
<path d="M615.75 375.09999999999997L617.55 378.5L619.3499999999999 375.09999999999997Z" stroke="#111" stroke-width="0.3" fill="#222" />
<path d="M615.75 386.3L617.55 382.9L619.3499999999999 386.3Z" stroke="#111" stroke-width="0.3" fill="#222" />
<path d="M626.75 375.09999999999997L628.55 378.5L630.3499999999999 375.09999999999997Z" stroke="#111" stroke-width="0.3" fill="#222" />
<path d="M626.75 386.3L628.55 382.9L630.3499999999999 386.3Z" stroke="#111" stroke-width="0.3" fill="#222" />
<rect x="640.8" y="304.7" width="5.2" height="40.6" rx="0" stroke="#222" stroke-width="0.6" fill="#fff"/>
<rect x="647.1" y="303.3" width="12.5" height="42.0" rx="0" stroke="#222" stroke-width="0.6" fill="none"/>
<path d="M646.6 301.3L646.6 347.6" stroke="#000" stroke-width="1.5" />
<path d="M659.6 301.3L659.6 346.7" stroke="#333" stroke-width="0.6" />
<path d="M656.2 303.3L656.2 345.3" stroke="#333" stroke-width="0.6" />
<path d="M656.2 315.7L659.6 315.7" stroke="#333" stroke-width="0.5" />
<path d="M656.2 327.3L659.6 327.3" stroke="#333" stroke-width="0.5" />
<path d="M656.2 339.0L659.6 339.0" stroke="#333" stroke-width="0.5" />
<path d="M652.5 327.7L652.9 338.9" stroke="#777" stroke-width="0.6" />
<path d="M652.7 332.6L653.1 337.6" stroke="#888" stroke-width="0.9" />
<path d="M652.1 322.6L652.0 326.7" stroke="#999" stroke-width="0.6" />
<path d="M654.3 328.4L653.9 333.9" stroke="#777" stroke-width="1.4" />
<path d="M651.5 309.0L651.1 321.8" stroke="#777" stroke-width="0.6" />
<path d="M654.6 310.1L655.1 315.6" stroke="#555" stroke-width="1.4" />
<path d="M654.1 324.1L654.6 329.8" stroke="#999" stroke-width="0.9" />
<path d="M650.6 316.1L650.3 321.5" stroke="#999" stroke-width="0.9" />
<path d="M650.6 323.5L650.1 327.5" stroke="#555" stroke-width="0.9" />
<path d="M648.5 335.3L652.2 335.3" stroke="#555" stroke-width="0.5" />
<path d="M648.5 317.9L652.2 317.9" stroke="#555" stroke-width="0.5" />
<path d="M648.5 331.4L649.8 331.4" stroke="#555" stroke-width="0.5" />
<path d="M648.5 340.7L649.6 340.7" stroke="#555" stroke-width="0.5" />
<path d="M668.6 322.0H671.5V318.3L675.9 326.6L671.5 334.90000000000003V331.20000000000005H668.6Z" stroke="#000" stroke-width="0.4" fill="#000" />
<path d="M292.2 425.5L292.2 487.0" stroke="#000" stroke-width="2.2" />
<path d="M287.4 423.6L287.4 488.0" stroke="#555" stroke-width="0.6" />
<path d="M287.4 428.0L291.0 428.0" stroke="#555" stroke-width="0.5" />
<path d="M287.4 437.6L291.0 437.6" stroke="#555" stroke-width="0.5" />
<path d="M287.4 447.2L291.0 447.2" stroke="#555" stroke-width="0.5" />
<path d="M287.4 456.8L291.0 456.8" stroke="#555" stroke-width="0.5" />
<path d="M287.4 466.4L291.0 466.4" stroke="#555" stroke-width="0.5" />
<path d="M287.4 476.0L291.0 476.0" stroke="#555" stroke-width="0.5" />
<path d="M287.4 485.6L291.0 485.6" stroke="#555" stroke-width="0.5" />
<rect x="294.2" y="428.0" width="5" height="6.6" fill="#8a8a8a" stroke="none"/>
<rect x="294.2" y="437.9" width="5" height="6.6" fill="#8a8a8a" stroke="none"/>
<rect x="294.2" y="447.8" width="5" height="6.6" fill="#8a8a8a" stroke="none"/>
<rect x="294.2" y="457.7" width="5" height="6.6" fill="#8a8a8a" stroke="none"/>
<rect x="294.2" y="467.6" width="5" height="6.6" fill="#8a8a8a" stroke="none"/>
<rect x="294.2" y="477.5" width="5" height="6.6" fill="#8a8a8a" stroke="none"/>
<rect x="305.2" y="428.0" width="6.5" height="6.6" fill="#8a8a8a" stroke="none"/>
<rect x="305.2" y="437.9" width="6.5" height="6.6" fill="#8a8a8a" stroke="none"/>
<rect x="305.2" y="447.8" width="6.5" height="6.6" fill="#8a8a8a" stroke="none"/>
<rect x="305.2" y="457.7" width="6.5" height="6.6" fill="#8a8a8a" stroke="none"/>
<rect x="305.2" y="467.6" width="6.5" height="6.6" fill="#8a8a8a" stroke="none"/>
<rect x="305.2" y="477.5" width="6.5" height="6.6" fill="#8a8a8a" stroke="none"/>
<path d="M293.5 426.2H312V484.8H293.5" stroke="#222" stroke-width="0.6" fill="none" />
<circle cx="298.9" cy="433.0" r="0.9" fill="#000" stroke="none"/>
<circle cx="298.9" cy="443.0" r="0.9" fill="#000" stroke="none"/>
<circle cx="298.9" cy="453.0" r="0.9" fill="#000" stroke="none"/>
<circle cx="298.9" cy="463.0" r="0.9" fill="#000" stroke="none"/>
<circle cx="298.9" cy="473.0" r="0.9" fill="#000" stroke="none"/>
<path d="M271.0 453.29999999999995H268.1V449.59999999999997L263.7 457.9L268.1 466.2V462.5H271.0Z" stroke="#000" stroke-width="0.4" fill="#000" />
<circle cx="346.6" cy="476.0" r="22.6" stroke="#222" stroke-width="0.7" fill="none"/>
<path d="M319.6 476.0L377.6 476.0" stroke="#000" stroke-width="0.7" stroke-dasharray="10 2 2 2"/>
<path d="M346.6 449.0L346.6 506.0" stroke="#000" stroke-width="0.7" stroke-dasharray="10 2 2 2"/>
<path d="M312 426.2H349C372 427 389.5 446 389.3 469C389 483 382 496 371.5 503.3M312 484.8H316C318 487 318.5 490 320 493C322 497 324.5 500.5 328 503.3" stroke="#222" stroke-width="0.7" fill="none" />
<path d="M331.5 503.3C333 498.5 336 495.5 339.5 494.5M362.5 494.5C366 496 369 499 370.3 503.3" stroke="#222" stroke-width="0.7" fill="none" />
<rect x="309.6" y="503.3" width="137.7" height="9.3" rx="0" stroke="#222" stroke-width="0.7" fill="none"/>
<path d="M309.6 505.8L447.3 505.8" stroke="#222" stroke-width="0.6" />
<path d="M309.6 511.2L447.3 511.2" stroke="#000" stroke-width="1.8" />
<path d="M312.8 512.6V517.5H311.0V520.8M316.8 512.6V517.5H318.6V520.8M311.0 517.5H318.6" stroke="#222" stroke-width="0.7" fill="none" />
<path d="M426.3 512.6V517.5H424.5V520.8M430.3 512.6V517.5H432.1V520.8M424.5 517.5H432.1" stroke="#222" stroke-width="0.7" fill="none" />
<path d="M416.5 458.59999999999997V450.59999999999997Q416.5 447.59999999999997 419.5 447.59999999999997H428.5Q431.5 447.59999999999997 431.5 450.59999999999997V458.59999999999997" stroke="#222" stroke-width="0.7" fill="none" />
<circle cx="424.0" cy="475.2" r="18.6" stroke="#222" stroke-width="0.7" fill="#fff"/>
<circle cx="424.0" cy="475.2" r="17.0" stroke="#222" stroke-width="0.7" fill="none"/>
<circle cx="424.0" cy="475.2" r="6.4" stroke="#222" stroke-width="0.7" fill="none"/>
<circle cx="424.0" cy="475.2" r="3.0" stroke="#222" stroke-width="0.7" fill="none"/>
<path d="M403.4 475.2L444.6 475.2" stroke="#000" stroke-width="0.7" stroke-dasharray="9 2 2 2"/>
<path d="M424.0 454.6L424.0 495.8" stroke="#000" stroke-width="0.7" stroke-dasharray="9 2 2 2"/>
<path d="M407 494.8L409 487.7H413M441 494.8L439 487.7H435" stroke="#222" stroke-width="0.7" fill="none" />
<rect x="397.6" y="494.4" width="56.0" height="3.2" rx="0" stroke="#222" stroke-width="0.7" fill="none"/>
<path d="M403 497.6v6M406 497.6v6M441 497.6v6M444 497.6v6" stroke="#222" stroke-width="0.7" fill="none" />
<path d="M479.3 400.6H503.8L506.4 515.7H482.3Z" stroke="#222" stroke-width="0.7" fill="none" />
<path d="M480.3 401.5L505 515M481.6 401.5L506 514M503 401.5L483 515M501.8 401.5L482.4 514" stroke="#222" stroke-width="0.5" fill="none" />
<circle cx="493.0" cy="457.7" r="7.6" stroke="#222" stroke-width="0.7" fill="#fff"/>
<path d="M490.5 457.7H495.5M493 455.2V460.2" stroke="#222" stroke-width="0.5" fill="none" />
<circle cx="488.3" cy="406.2" r="3.0" stroke="#222" stroke-width="0.7" fill="none"/>
<circle cx="498.6" cy="510.4" r="3.0" stroke="#222" stroke-width="0.7" fill="none"/>
<path d="M532.5 405.3H570Q572.6 405.3 572.6 407.90000000000003V457.8H533Q529.6 457.8 529.6 454.3V408.3Q529.6 405.3 532.5 405.3Z" stroke="#222" stroke-width="0.7" fill="none" />
<path d="M561.5 405.3V457.8M550 405.3L530 431.3L551 457.8" stroke="#222" stroke-width="0.7" fill="none" />
<path d="M532.5 459.8H570Q572.6 459.8 572.6 462.40000000000003V511.9H533Q529.6 511.9 529.6 508.4V462.8Q529.6 459.8 532.5 459.8Z" stroke="#222" stroke-width="0.7" fill="none" />
<path d="M561.5 459.8V511.9M550 459.8L530 485.6L551 511.9" stroke="#222" stroke-width="0.7" fill="none" />
<path d="M-2.5 -4.9H0V-9.1L4.9 0L0 9.1V4.9H-2.5Z" stroke="#222" stroke-width="0.7" fill="none" transform="translate(597.6 410.2) rotate(135)"/>
<path d="M629.8 434.5V481M629.8 437H640.8M629.8 480.7H640.8" stroke="#333" stroke-width="0.6" fill="none" />
<circle cx="635.6" cy="441.8" r="4.9" stroke="#111" stroke-width="0.85" fill="none"/>
<circle cx="635.6" cy="441.8" r="1.2" stroke="#111" stroke-width="0.6" fill="none"/>
<path d="M627.3 441.8L643.1 441.8" stroke="#333" stroke-width="0.5" />
<path d="M629.7 440.2L629.7 443.4" stroke="#222" stroke-width="0.6" />
<circle cx="635.6" cy="453.0" r="4.9" stroke="#111" stroke-width="0.85" fill="none"/>
<circle cx="635.6" cy="453.0" r="1.2" stroke="#111" stroke-width="0.6" fill="none"/>
<path d="M627.3 453.0L643.1 453.0" stroke="#333" stroke-width="0.5" />
<path d="M629.7 451.4L629.7 454.6" stroke="#222" stroke-width="0.6" />
<circle cx="635.6" cy="464.3" r="4.9" stroke="#111" stroke-width="0.85" fill="none"/>
<circle cx="635.6" cy="464.3" r="1.2" stroke="#111" stroke-width="0.6" fill="none"/>
<path d="M627.3 464.3L643.1 464.3" stroke="#333" stroke-width="0.5" />
<path d="M629.7 462.7L629.7 465.9" stroke="#222" stroke-width="0.6" />
<circle cx="635.6" cy="475.2" r="4.9" stroke="#111" stroke-width="0.85" fill="none"/>
<circle cx="635.6" cy="475.2" r="1.2" stroke="#111" stroke-width="0.6" fill="none"/>
<path d="M627.3 475.2L643.1 475.2" stroke="#333" stroke-width="0.5" />
<path d="M629.7 473.6L629.7 476.8" stroke="#222" stroke-width="0.6" />
<path d="M630.1 445.59999999999997L633.4 447.4L630.1 449.2Z" stroke="#111" stroke-width="0.3" fill="#222" />
<path d="M641.1 445.59999999999997L637.8000000000001 447.4L641.1 449.2Z" stroke="#111" stroke-width="0.3" fill="#222" />
<path d="M630.1 456.84999999999997L633.4 458.65L630.1 460.45Z" stroke="#111" stroke-width="0.3" fill="#222" />
<path d="M641.1 456.84999999999997L637.8000000000001 458.65L641.1 460.45Z" stroke="#111" stroke-width="0.3" fill="#222" />
<path d="M630.1 467.95L633.4 469.75L630.1 471.55Z" stroke="#111" stroke-width="0.3" fill="#222" />
<path d="M641.1 467.95L637.8000000000001 469.75L641.1 471.55Z" stroke="#111" stroke-width="0.3" fill="#222" />
<rect x="640.9" y="438.4" width="5.2" height="40.8" rx="0" stroke="#222" stroke-width="0.6" fill="#fff"/>
<path d="M646.5 434.5L646.5 481.0" stroke="#000" stroke-width="1.5" />
<rect x="647.2" y="437.6" width="12.3" height="40.7" rx="0" stroke="#222" stroke-width="0.6" fill="none"/>
<path d="M656.2 437.6L656.2 478.3" stroke="#333" stroke-width="0.6" />
<path d="M656.2 447.0L659.5 447.0" stroke="#333" stroke-width="0.5" />
<path d="M656.2 458.0L659.5 458.0" stroke="#333" stroke-width="0.5" />
<path d="M656.2 469.0L659.5 469.0" stroke="#333" stroke-width="0.5" />
<path d="M651.6 450.3L651.4 455.5" stroke="#777" stroke-width="0.9" />
<path d="M654.2 441.8L654.5 450.7" stroke="#777" stroke-width="0.6" />
<path d="M653.0 452.6L652.6 463.1" stroke="#999" stroke-width="0.6" />
<path d="M649.5 454.2L649.8 466.5" stroke="#777" stroke-width="0.9" />
<path d="M653.5 465.3L653.7 476.6" stroke="#999" stroke-width="1.4" />
<path d="M653.6 465.4L653.4 476.3" stroke="#999" stroke-width="0.9" />
<path d="M653.7 445.2L653.1 457.2" stroke="#888" stroke-width="0.9" />
<path d="M653.9 443.5L654.4 449.6" stroke="#777" stroke-width="0.6" />
<path d="M649.5 456.3L649.3 468.4" stroke="#999" stroke-width="0.6" />
<path d="M648.5 445.8L654.6 445.8" stroke="#555" stroke-width="0.5" />
<path d="M648.5 458.0L652.7 458.0" stroke="#555" stroke-width="0.5" />
<path d="M648.5 459.2L650.6 459.2" stroke="#555" stroke-width="0.5" />
<path d="M648.5 443.7L650.6 443.7" stroke="#555" stroke-width="0.5" />
<path d="M679.0 457.2H675.6V452.6L670.4 462L675.6 471.4V466.8H679.0Z" stroke="#222" stroke-width="0.7" fill="none" />
<path d="M419.2 236.0L579.4 236.0" stroke="#111" stroke-width="0.9" />
<circle cx="419.2" cy="236.0" r="1.95" fill="#000" stroke="none"/>
<circle cx="579.4" cy="236.0" r="1.95" fill="#000" stroke="none"/>
<path d="M419.2 225.0L419.2 255.5" stroke="#888" stroke-width="0.6" />
<path d="M579.4 230.0L579.4 256.0" stroke="#555" stroke-width="0.6" />
<text x="498.3" y="233.2" font-size="11.3" text-anchor="middle" fill="#111" stroke="none" letter-spacing="0.3">L1</text>
<path d="M647.5 258.0L699.8 258.0" stroke="#555" stroke-width="0.6" />
<circle cx="695.5" cy="258.0" r="1.95" fill="#000" stroke="none"/>
<path d="M695.5 258.0L695.5 531.7" stroke="#111" stroke-width="0.9" />
<circle cx="695.5" cy="531.7" r="1.95" fill="#000" stroke="none"/>
<path d="M648.2 531.7L698.8 531.7" stroke="#555" stroke-width="0.6" />
<text x="690.2" y="400.2" font-size="12" text-anchor="middle" fill="#111" stroke="none" letter-spacing="0.7" transform="rotate(-90 690.2 400.2)">H2XB1</text>
<path d="M228.4 391.7L297.5 391.7" stroke="#555" stroke-width="0.6" />
<circle cx="231.9" cy="391.7" r="1.95" fill="#000" stroke="none"/>
<path d="M231.9 391.7L231.9 531.7" stroke="#111" stroke-width="0.9" />
<circle cx="231.9" cy="531.7" r="1.95" fill="#000" stroke="none"/>
<path d="M228.4 531.7L297.2 531.7" stroke="#555" stroke-width="0.6" />
<text x="227.7" y="461.2" font-size="12" text-anchor="middle" fill="#111" stroke="none" letter-spacing="0.7" transform="rotate(-90 227.7 461.2)">H1XB1</text>
<path d="M300.3 534.2L300.3 580.4" stroke="#888" stroke-width="1.2" />
<path d="M279.7 555.3L680.0 555.3" stroke="#111" stroke-width="0.9" />
<circle cx="300.3" cy="555.3" r="1.9" fill="#000" stroke="none"/>
<circle cx="304.8" cy="555.3" r="1.9" fill="#000" stroke="none"/>
<circle cx="466.7" cy="555.3" r="1.9" fill="#000" stroke="none"/>
<circle cx="513.2" cy="555.3" r="1.9" fill="#000" stroke="none"/>
<circle cx="580.8" cy="555.3" r="1.9" fill="#000" stroke="none"/>
<circle cx="640.0" cy="555.3" r="1.9" fill="#000" stroke="none"/>
<circle cx="645.1" cy="555.3" r="1.9" fill="#000" stroke="none"/>
<path d="M259.8 576.3L686.2 576.3" stroke="#111" stroke-width="0.9" />
<circle cx="288.0" cy="576.3" r="1.9" fill="#000" stroke="none"/>
<circle cx="300.3" cy="576.3" r="1.9" fill="#000" stroke="none"/>
<circle cx="645.1" cy="576.3" r="1.9" fill="#000" stroke="none"/>
<circle cx="659.1" cy="576.3" r="1.9" fill="#000" stroke="none"/>
<path d="M287.4 490.0L287.4 534.5" stroke="#777" stroke-width="0.6" />
<path d="M287.4 570.0L287.4 580.4" stroke="#777" stroke-width="0.6" />
<path d="M304.8 534.2L304.8 558.8" stroke="#555" stroke-width="0.6" />
<path d="M466.2 534.2L466.2 558.8" stroke="#555" stroke-width="0.6" />
<path d="M513.6 534.2L513.6 558.8" stroke="#555" stroke-width="0.6" />
<path d="M580.8 534.2L580.8 558.8" stroke="#555" stroke-width="0.6" />
<path d="M640.0 534.2L640.0 558.8" stroke="#555" stroke-width="0.6" />
<path d="M645.1 532.0L645.1 580.4" stroke="#333" stroke-width="0.7" />
<path d="M659.5 434.5L659.5 580.4" stroke="#555" stroke-width="0.6" />
<text x="296.5" y="552.6" font-size="11.3" text-anchor="end" fill="#111" stroke="none" letter-spacing="0.3">25</text>
<text x="384.6" y="552.6" font-size="11.3" text-anchor="middle" fill="#111" stroke="none" letter-spacing="0.3">L1</text>
<text x="489.3" y="550.3" font-size="11.3" text-anchor="middle" fill="#111" stroke="none" letter-spacing="0.3">305</text>
<text x="544.0" y="550.3" font-size="11.3" text-anchor="middle" fill="#111" stroke="none" letter-spacing="0.3">610</text>
<text x="612.2" y="550.3" font-size="11.3" text-anchor="middle" fill="#111" stroke="none" letter-spacing="0.3">L2</text>
<text x="645.9" y="550.3" font-size="11.3" text-anchor="start" fill="#111" stroke="none" letter-spacing="0.3">25</text>
<text x="284.9" y="574.2" font-size="11.3" text-anchor="end" fill="#111" stroke="none" letter-spacing="0.3">130</text>
<text x="473.5" y="573.4" font-size="11.3" text-anchor="middle" fill="#111" stroke="none" letter-spacing="0.3">L</text>
<text x="665.7" y="574.2" font-size="11.3" text-anchor="start" fill="#111" stroke="none" letter-spacing="0.3">130</text>
</svg>

<svg style="left:0;top:0" width="1265" height="1719" viewBox="0 0 1265 1719" fill="none">
<defs><pattern id="hy" width="4.8" height="4.8" patternUnits="userSpaceOnUse" patternTransform="translate(208.3 933.7)"><rect width="4.8" height="4.8" fill="#fff"/><path d="M-1 -1L5.8 5.8M5.8 -1L-1 5.8" stroke="#111" stroke-width="1.05"/></pattern></defs>
<path d="M208.3 933.6H674.5V940.6L671.5 942.6L670.2 938.6H213.0V941.6H208.3Z" fill="url(#hy)" stroke="#222" stroke-width="0.8"/>
<path d="M208.3 1041.4H404.8V1050.3H208.3Z" fill="url(#hy)" stroke="#222" stroke-width="0.8"/>
<path d="M208.3 1045.9L404.8 1045.9" stroke="#222" stroke-width="0.5" />
<path d="M440.4 1041.4H460.9L465.6 1045.8L465.6 1050.3H440.4Z" fill="url(#hy)" stroke="#222" stroke-width="0.8"/>
<path d="M404.8 1041.4H440.4M404.8 1050.3H440.4" stroke="#333" stroke-width="0.7" fill="none" />
<path d="M405.6 1045.5L440.4 1045.5" stroke="#aaa" stroke-width="1.3" />
<path d="M605.6 1042.2H673.8V1050.3H608.2L605.6 1046Z" fill="url(#hy)" stroke="#222" stroke-width="0.8"/>
<path d="M208.3 1050.3H212.6V1074.6H208.3Z" fill="url(#hy)" stroke="#222" stroke-width="0.8"/>
<path d="M209 1126H214.5V1153.8L209 1151.3Z" fill="url(#hy)" stroke="#222" stroke-width="0.8"/>
<path d="M213.9 1153.8H348.7V1158.1H213.9Z" fill="url(#hy)" stroke="#222" stroke-width="0.8"/>
<path d="M400.9 1153.8H535.5V1158.1H400.9Z" fill="url(#hy)" stroke="#222" stroke-width="0.8"/>
<path d="M642.6 1153.8H670.4V1158.1H642.6Z" fill="url(#hy)" stroke="#222" stroke-width="0.8"/>
<path d="M670.4 1153.8L673.8 1151.0V1159.1" stroke="#222" stroke-width="0.7" fill="none" />
<path d="M348.7 1158.1L348.7 1153.8H353.5L359 1158.1Z" stroke="#000" stroke-width="0.3" fill="#000" />
<path d="M390.3 1158.1L395 1153.8H400.9L400.9 1158.1Z" stroke="#000" stroke-width="0.3" fill="#000" />
<path d="M348.7 1157.5L400.9 1157.5" stroke="#222" stroke-width="0.7" />
<path d="M535.5 1158.1L535.5 1153.8H542.2L547.5 1158.1Z" stroke="#000" stroke-width="0.3" fill="#000" />
<path d="M577.5 1158.1L583.5 1153.8H595L601.5 1158.1Z" stroke="#000" stroke-width="0.3" fill="#000" />
<path d="M629.2 1158.1L635.5 1153.8H642.6L642.6 1158.1Z" stroke="#000" stroke-width="0.3" fill="#000" />
<path d="M535.5 1157.7L642.6 1157.7" stroke="#222" stroke-width="0.7" />
<circle cx="563.0" cy="1155.6" r="0.9" stroke="#222" stroke-width="0.5" fill="none"/>
<circle cx="615.4" cy="1155.6" r="0.9" stroke="#222" stroke-width="0.5" fill="none"/>
<path d="M210.3 1162.4L673.8 1162.4" stroke="#222" stroke-width="0.8" />
<path d="M213.3 1158.1L670.5 1158.1" stroke="#222" stroke-width="0.5" />
<circle cx="221.0" cy="1160.1" r="1.9" stroke="#222" stroke-width="0.7" fill="#fff"/>
<circle cx="234.2" cy="1160.1" r="1.9" stroke="#222" stroke-width="0.7" fill="#fff"/>
<circle cx="247.3" cy="1160.1" r="1.9" stroke="#222" stroke-width="0.7" fill="#fff"/>
<circle cx="260.5" cy="1160.1" r="1.9" stroke="#222" stroke-width="0.7" fill="#fff"/>
<circle cx="273.7" cy="1160.1" r="1.9" stroke="#222" stroke-width="0.7" fill="#fff"/>
<circle cx="286.9" cy="1160.1" r="1.9" stroke="#222" stroke-width="0.7" fill="#fff"/>
<circle cx="300.0" cy="1160.1" r="1.9" stroke="#222" stroke-width="0.7" fill="#fff"/>
<circle cx="313.2" cy="1160.1" r="1.9" stroke="#222" stroke-width="0.7" fill="#fff"/>
<circle cx="326.4" cy="1160.1" r="1.9" stroke="#222" stroke-width="0.7" fill="#fff"/>
<circle cx="339.5" cy="1160.1" r="1.9" stroke="#222" stroke-width="0.7" fill="#fff"/>
<circle cx="352.7" cy="1160.1" r="1.9" stroke="#222" stroke-width="0.7" fill="#fff"/>
<circle cx="365.9" cy="1160.1" r="1.9" stroke="#222" stroke-width="0.7" fill="#fff"/>
<circle cx="379.0" cy="1160.1" r="1.9" stroke="#222" stroke-width="0.7" fill="#fff"/>
<circle cx="392.2" cy="1160.1" r="1.9" stroke="#222" stroke-width="0.7" fill="#fff"/>
<circle cx="405.4" cy="1160.1" r="1.9" stroke="#222" stroke-width="0.7" fill="#fff"/>
<circle cx="418.6" cy="1160.1" r="1.9" stroke="#222" stroke-width="0.7" fill="#fff"/>
<circle cx="431.7" cy="1160.1" r="1.9" stroke="#222" stroke-width="0.7" fill="#fff"/>
<circle cx="444.9" cy="1160.1" r="1.9" stroke="#222" stroke-width="0.7" fill="#fff"/>
<circle cx="458.1" cy="1160.1" r="1.9" stroke="#222" stroke-width="0.7" fill="#fff"/>
<circle cx="471.2" cy="1160.1" r="1.9" stroke="#222" stroke-width="0.7" fill="#fff"/>
<circle cx="484.4" cy="1160.1" r="1.9" stroke="#222" stroke-width="0.7" fill="#fff"/>
<circle cx="497.6" cy="1160.1" r="1.9" stroke="#222" stroke-width="0.7" fill="#fff"/>
<circle cx="510.7" cy="1160.1" r="1.9" stroke="#222" stroke-width="0.7" fill="#fff"/>
<circle cx="523.9" cy="1160.1" r="1.9" stroke="#222" stroke-width="0.7" fill="#fff"/>
<circle cx="537.1" cy="1160.1" r="1.9" stroke="#222" stroke-width="0.7" fill="#fff"/>
<circle cx="550.3" cy="1160.1" r="1.9" stroke="#222" stroke-width="0.7" fill="#fff"/>
<circle cx="563.4" cy="1160.1" r="1.9" stroke="#222" stroke-width="0.7" fill="#fff"/>
<circle cx="576.6" cy="1160.1" r="1.9" stroke="#222" stroke-width="0.7" fill="#fff"/>
<circle cx="589.8" cy="1160.1" r="1.9" stroke="#222" stroke-width="0.7" fill="#fff"/>
<circle cx="602.9" cy="1160.1" r="1.9" stroke="#222" stroke-width="0.7" fill="#fff"/>
<circle cx="616.1" cy="1160.1" r="1.9" stroke="#222" stroke-width="0.7" fill="#fff"/>
<circle cx="629.3" cy="1160.1" r="1.9" stroke="#222" stroke-width="0.7" fill="#fff"/>
<circle cx="642.4" cy="1160.1" r="1.9" stroke="#222" stroke-width="0.7" fill="#fff"/>
<circle cx="655.6" cy="1160.1" r="1.9" stroke="#222" stroke-width="0.7" fill="#fff"/>
<circle cx="668.8" cy="1160.1" r="1.9" stroke="#222" stroke-width="0.7" fill="#fff"/>
<path d="M212.4 938.6L212.4 1041.4" stroke="#333" stroke-width="0.7" />
<path d="M670.2 941.6V1041.4M673.3 942.6V1041.4" stroke="#555" stroke-width="0.6" fill="none" />
<path d="M670.2 1050.3V1153.8M673.0 1051.8V1151.0" stroke="#777" stroke-width="0.6" fill="none" />
<path d="M264.8 938.6L264.8 1041.4" stroke="#333" stroke-width="0.7" />
<path d="M400.9 911.4L400.9 1041.4" stroke="#333" stroke-width="0.7" />
<path d="M615.0 911.4L615.0 1042.4" stroke="#888" stroke-width="1.0" />
<path d="M453.7 911.4L453.7 933.6" stroke="#333" stroke-width="0.7" />
<path d="M534.9 938.6L534.9 976.2" stroke="#888" stroke-width="1.0" />
<path d="M535.5 1116.8L535.5 1153.8" stroke="#333" stroke-width="0.7" />
<path d="M348.7 1050.3L348.7 1192.2" stroke="#333" stroke-width="0.7" />
<path d="M400.9 1050.3L400.9 1192.2" stroke="#888" stroke-width="1.0" />
<path d="M642.2 1050.3L642.2 1153.8" stroke="#999" stroke-width="1.0" />
<path d="M200.9 938.4L200.9 1041.6" stroke="#000" stroke-width="1.7" />
<path d="M196.7 936.9L196.7 1042.6" stroke="#888" stroke-width="0.6" />
<path d="M200.9 944.4L196.7 944.4" stroke="#444" stroke-width="0.5" />
<path d="M200.9 952.8L196.7 952.8" stroke="#444" stroke-width="0.5" />
<path d="M200.9 961.2L196.7 961.2" stroke="#444" stroke-width="0.5" />
<path d="M200.9 969.6L196.7 969.6" stroke="#444" stroke-width="0.5" />
<path d="M200.9 978.0L196.7 978.0" stroke="#444" stroke-width="0.5" />
<path d="M200.9 986.4L196.7 986.4" stroke="#444" stroke-width="0.5" />
<path d="M200.9 994.8L196.7 994.8" stroke="#444" stroke-width="0.5" />
<path d="M200.9 1003.2L196.7 1003.2" stroke="#444" stroke-width="0.5" />
<path d="M200.9 1011.6L196.7 1011.6" stroke="#444" stroke-width="0.5" />
<path d="M200.9 1020.0L196.7 1020.0" stroke="#444" stroke-width="0.5" />
<path d="M200.9 1028.4L196.7 1028.4" stroke="#444" stroke-width="0.5" />
<path d="M200.9 1036.8L196.7 1036.8" stroke="#444" stroke-width="0.5" />
<rect x="202.1" y="939.2" width="4.7" height="4.2" fill="#9a9a9a"/>
<rect x="202.1" y="945.4" width="4.7" height="6.4" fill="#9a9a9a"/>
<rect x="202.1" y="953.8" width="4.7" height="6.4" fill="#9a9a9a"/>
<rect x="202.1" y="962.2" width="4.7" height="6.4" fill="#9a9a9a"/>
<rect x="202.1" y="970.6" width="4.7" height="6.4" fill="#9a9a9a"/>
<rect x="202.1" y="979.0" width="4.7" height="6.4" fill="#9a9a9a"/>
<rect x="202.1" y="987.4" width="4.7" height="6.4" fill="#9a9a9a"/>
<rect x="202.1" y="995.8" width="4.7" height="6.4" fill="#9a9a9a"/>
<rect x="202.1" y="1004.2" width="4.7" height="6.4" fill="#9a9a9a"/>
<rect x="202.1" y="1012.6" width="4.7" height="6.4" fill="#9a9a9a"/>
<rect x="202.1" y="1021.0" width="4.7" height="6.4" fill="#9a9a9a"/>
<rect x="202.1" y="1029.4" width="4.7" height="6.4" fill="#9a9a9a"/>
<rect x="202.1" y="1037.8" width="4.7" height="3.8" fill="#9a9a9a"/>
<circle cx="207.4" cy="944.4" r="0.95" fill="#000" stroke="none"/>
<circle cx="207.4" cy="952.8" r="0.95" fill="#000" stroke="none"/>
<circle cx="207.4" cy="961.2" r="0.95" fill="#000" stroke="none"/>
<circle cx="207.4" cy="969.6" r="0.95" fill="#000" stroke="none"/>
<circle cx="207.4" cy="978.0" r="0.95" fill="#000" stroke="none"/>
<circle cx="207.4" cy="986.4" r="0.95" fill="#000" stroke="none"/>
<circle cx="207.4" cy="994.8" r="0.95" fill="#000" stroke="none"/>
<circle cx="207.4" cy="1003.2" r="0.95" fill="#000" stroke="none"/>
<circle cx="207.4" cy="1011.6" r="0.95" fill="#000" stroke="none"/>
<circle cx="207.4" cy="1020.0" r="0.95" fill="#000" stroke="none"/>
<circle cx="207.4" cy="1028.4" r="0.95" fill="#000" stroke="none"/>
<circle cx="207.4" cy="1036.8" r="0.95" fill="#000" stroke="none"/>
<path d="M208.8 938.4L208.8 1041.6" stroke="#666" stroke-width="0.5" />
<path d="M682.2 941.2L682.2 1042.8" stroke="#000" stroke-width="1.7" />
<path d="M687.2 939.7L687.2 1043.8" stroke="#888" stroke-width="0.6" />
<path d="M682.2 947.2L687.2 947.2" stroke="#444" stroke-width="0.5" />
<path d="M682.2 955.6L687.2 955.6" stroke="#444" stroke-width="0.5" />
<path d="M682.2 964.0L687.2 964.0" stroke="#444" stroke-width="0.5" />
<path d="M682.2 972.4L687.2 972.4" stroke="#444" stroke-width="0.5" />
<path d="M682.2 980.8L687.2 980.8" stroke="#444" stroke-width="0.5" />
<path d="M682.2 989.2L687.2 989.2" stroke="#444" stroke-width="0.5" />
<path d="M682.2 997.6L687.2 997.6" stroke="#444" stroke-width="0.5" />
<path d="M682.2 1006.0L687.2 1006.0" stroke="#444" stroke-width="0.5" />
<path d="M682.2 1014.4L687.2 1014.4" stroke="#444" stroke-width="0.5" />
<path d="M682.2 1022.8L687.2 1022.8" stroke="#444" stroke-width="0.5" />
<path d="M682.2 1031.2L687.2 1031.2" stroke="#444" stroke-width="0.5" />
<path d="M682.2 1039.6L687.2 1039.6" stroke="#444" stroke-width="0.5" />
<rect x="676.3" y="942.0" width="4.7" height="4.2" fill="#9a9a9a"/>
<rect x="676.3" y="948.2" width="4.7" height="6.4" fill="#9a9a9a"/>
<rect x="676.3" y="956.6" width="4.7" height="6.4" fill="#9a9a9a"/>
<rect x="676.3" y="965.0" width="4.7" height="6.4" fill="#9a9a9a"/>
<rect x="676.3" y="973.4" width="4.7" height="6.4" fill="#9a9a9a"/>
<rect x="676.3" y="981.8" width="4.7" height="6.4" fill="#9a9a9a"/>
<rect x="676.3" y="990.2" width="4.7" height="6.4" fill="#9a9a9a"/>
<rect x="676.3" y="998.6" width="4.7" height="6.4" fill="#9a9a9a"/>
<rect x="676.3" y="1007.0" width="4.7" height="6.4" fill="#9a9a9a"/>
<rect x="676.3" y="1015.4" width="4.7" height="6.4" fill="#9a9a9a"/>
<rect x="676.3" y="1023.8" width="4.7" height="6.4" fill="#9a9a9a"/>
<rect x="676.3" y="1032.2" width="4.7" height="6.4" fill="#9a9a9a"/>
<rect x="676.3" y="1040.6" width="4.7" height="2.2" fill="#9a9a9a"/>
<circle cx="675.7" cy="947.2" r="0.95" fill="#000" stroke="none"/>
<circle cx="675.7" cy="955.6" r="0.95" fill="#000" stroke="none"/>
<circle cx="675.7" cy="964.0" r="0.95" fill="#000" stroke="none"/>
<circle cx="675.7" cy="972.4" r="0.95" fill="#000" stroke="none"/>
<circle cx="675.7" cy="980.8" r="0.95" fill="#000" stroke="none"/>
<circle cx="675.7" cy="989.2" r="0.95" fill="#000" stroke="none"/>
<circle cx="675.7" cy="997.6" r="0.95" fill="#000" stroke="none"/>
<circle cx="675.7" cy="1006.0" r="0.95" fill="#000" stroke="none"/>
<circle cx="675.7" cy="1014.4" r="0.95" fill="#000" stroke="none"/>
<circle cx="675.7" cy="1022.8" r="0.95" fill="#000" stroke="none"/>
<circle cx="675.7" cy="1031.2" r="0.95" fill="#000" stroke="none"/>
<circle cx="675.7" cy="1039.6" r="0.95" fill="#000" stroke="none"/>
<path d="M674.3 941.2L674.3 1042.8" stroke="#666" stroke-width="0.5" />
<path d="M681.9 1052.0L681.9 1153.2" stroke="#000" stroke-width="1.7" />
<path d="M686.4 1050.5L686.4 1154.2" stroke="#888" stroke-width="0.6" />
<path d="M681.9 1058.0L686.4 1058.0" stroke="#444" stroke-width="0.5" />
<path d="M681.9 1066.4L686.4 1066.4" stroke="#444" stroke-width="0.5" />
<path d="M681.9 1074.8L686.4 1074.8" stroke="#444" stroke-width="0.5" />
<path d="M681.9 1083.2L686.4 1083.2" stroke="#444" stroke-width="0.5" />
<path d="M681.9 1091.6L686.4 1091.6" stroke="#444" stroke-width="0.5" />
<path d="M681.9 1100.0L686.4 1100.0" stroke="#444" stroke-width="0.5" />
<path d="M681.9 1108.4L686.4 1108.4" stroke="#444" stroke-width="0.5" />
<path d="M681.9 1116.8L686.4 1116.8" stroke="#444" stroke-width="0.5" />
<path d="M681.9 1125.2L686.4 1125.2" stroke="#444" stroke-width="0.5" />
<path d="M681.9 1133.6L686.4 1133.6" stroke="#444" stroke-width="0.5" />
<path d="M681.9 1142.0L686.4 1142.0" stroke="#444" stroke-width="0.5" />
<path d="M681.9 1150.4L686.4 1150.4" stroke="#444" stroke-width="0.5" />
<rect x="676.0" y="1052.8" width="4.7" height="4.2" fill="#9a9a9a"/>
<rect x="676.0" y="1059.0" width="4.7" height="6.4" fill="#9a9a9a"/>
<rect x="676.0" y="1067.4" width="4.7" height="6.4" fill="#9a9a9a"/>
<rect x="676.0" y="1075.8" width="4.7" height="6.4" fill="#9a9a9a"/>
<rect x="676.0" y="1084.2" width="4.7" height="6.4" fill="#9a9a9a"/>
<rect x="676.0" y="1092.6" width="4.7" height="6.4" fill="#9a9a9a"/>
<rect x="676.0" y="1101.0" width="4.7" height="6.4" fill="#9a9a9a"/>
<rect x="676.0" y="1109.4" width="4.7" height="6.4" fill="#9a9a9a"/>
<rect x="676.0" y="1117.8" width="4.7" height="6.4" fill="#9a9a9a"/>
<rect x="676.0" y="1126.2" width="4.7" height="6.4" fill="#9a9a9a"/>
<rect x="676.0" y="1134.6" width="4.7" height="6.4" fill="#9a9a9a"/>
<rect x="676.0" y="1143.0" width="4.7" height="6.4" fill="#9a9a9a"/>
<rect x="676.0" y="1151.4" width="4.7" height="1.8" fill="#9a9a9a"/>
<circle cx="675.4" cy="1058.0" r="0.95" fill="#000" stroke="none"/>
<circle cx="675.4" cy="1066.4" r="0.95" fill="#000" stroke="none"/>
<circle cx="675.4" cy="1074.8" r="0.95" fill="#000" stroke="none"/>
<circle cx="675.4" cy="1083.2" r="0.95" fill="#000" stroke="none"/>
<circle cx="675.4" cy="1091.6" r="0.95" fill="#000" stroke="none"/>
<circle cx="675.4" cy="1100.0" r="0.95" fill="#000" stroke="none"/>
<circle cx="675.4" cy="1108.4" r="0.95" fill="#000" stroke="none"/>
<circle cx="675.4" cy="1116.8" r="0.95" fill="#000" stroke="none"/>
<circle cx="675.4" cy="1125.2" r="0.95" fill="#000" stroke="none"/>
<circle cx="675.4" cy="1133.6" r="0.95" fill="#000" stroke="none"/>
<circle cx="675.4" cy="1142.0" r="0.95" fill="#000" stroke="none"/>
<circle cx="675.4" cy="1150.4" r="0.95" fill="#000" stroke="none"/>
<path d="M674.0 1052.0L674.0 1153.2" stroke="#666" stroke-width="0.5" />
<path d="M202.5 1075.3L202.5 1127.6" stroke="#000" stroke-width="1.7" />
<path d="M198.6 1073.8L198.6 1128.6" stroke="#888" stroke-width="0.6" />
<path d="M202.5 1081.3L198.6 1081.3" stroke="#444" stroke-width="0.5" />
<path d="M202.5 1089.6L198.6 1089.6" stroke="#444" stroke-width="0.5" />
<path d="M202.5 1097.9L198.6 1097.9" stroke="#444" stroke-width="0.5" />
<path d="M202.5 1106.2L198.6 1106.2" stroke="#444" stroke-width="0.5" />
<path d="M202.5 1114.5L198.6 1114.5" stroke="#444" stroke-width="0.5" />
<path d="M202.5 1122.8L198.6 1122.8" stroke="#444" stroke-width="0.5" />
<rect x="203.7" y="1076.1" width="4.7" height="4.2" fill="#9a9a9a"/>
<rect x="203.7" y="1082.3" width="4.7" height="6.3" fill="#9a9a9a"/>
<rect x="203.7" y="1090.6" width="4.7" height="6.3" fill="#9a9a9a"/>
<rect x="203.7" y="1098.9" width="4.7" height="6.3" fill="#9a9a9a"/>
<rect x="203.7" y="1107.2" width="4.7" height="6.3" fill="#9a9a9a"/>
<rect x="203.7" y="1115.5" width="4.7" height="6.3" fill="#9a9a9a"/>
<rect x="203.7" y="1123.8" width="4.7" height="3.8" fill="#9a9a9a"/>
<circle cx="209.0" cy="1081.3" r="0.95" fill="#000" stroke="none"/>
<circle cx="209.0" cy="1089.6" r="0.95" fill="#000" stroke="none"/>
<circle cx="209.0" cy="1097.9" r="0.95" fill="#000" stroke="none"/>
<circle cx="209.0" cy="1106.2" r="0.95" fill="#000" stroke="none"/>
<circle cx="209.0" cy="1114.5" r="0.95" fill="#000" stroke="none"/>
<circle cx="209.0" cy="1122.8" r="0.95" fill="#000" stroke="none"/>
<path d="M210.4 1075.3L210.4 1127.6" stroke="#666" stroke-width="0.5" />
<path d="M198.6 1127.0L198.6 1165.5" stroke="#888" stroke-width="0.6" />
<path d="M212.8 1073.6H219.6M212.8 1123H219.6M219.6 1073.6V1123" stroke="#222" stroke-width="0.6" fill="none" />
<path d="M215.4 1075.5L215.4 1122.0" stroke="#999" stroke-width="1.5" stroke-dasharray="5.8 2.4"/>
<path d="M218.0 1075.5L218.0 1122.0" stroke="#999" stroke-width="1.5" stroke-dasharray="5.8 2.4"/>
<path d="M181.2 984.0H184.8V980.3L188.5 987.5L184.8 994.7V991.0H181.2Z" stroke="#222" stroke-width="0.7" fill="none" />
<path d="M188.5 1095.8H184.9V1092.5L181.2 1099.2L184.9 1105.9V1102.6000000000001H188.5Z" stroke="#000" stroke-width="0.4" fill="#000" />
<path d="M703.4 984.0H699.8V980.3L696.1 987.5L699.8 994.7V991.0H703.4Z" stroke="#222" stroke-width="0.7" fill="none" />
<path d="M693.2 1095.8H696.8V1092.5L700.5 1099.2L696.8 1105.9V1102.6000000000001H693.2Z" stroke="#000" stroke-width="0.4" fill="#000" />
<path d="M220.6 944.9H253.6Q255.6 944.9 255.6 946.9V986.5Q255.6 988.5 253.6 988.5H220.6Q218.6 988.5 218.6 986.5V946.9Q218.6 944.9 220.6 944.9Z" stroke="#222" stroke-width="0.7" fill="none" />
<path d="M227.4 944.9L227.4 988.5" stroke="#222" stroke-width="0.7" />
<path d="M237.3 944.9L255.2 966.7L237.3 988.5" stroke="#222" stroke-width="0.7" fill="none" />
<path d="M220.6 990.4H253.6Q255.6 990.4 255.6 992.4V1032.4Q255.6 1034.4 253.6 1034.4H220.6Q218.6 1034.4 218.6 1032.4V992.4Q218.6 990.4 220.6 990.4Z" stroke="#222" stroke-width="0.7" fill="none" />
<path d="M227.4 990.4L227.4 1034.4" stroke="#222" stroke-width="0.7" />
<path d="M237.3 990.4L255.2 1012.4000000000001L237.3 1034.4" stroke="#222" stroke-width="0.7" fill="none" />
<text x="238.8" y="1015.3" font-size="8.5" text-anchor="middle" fill="#111" stroke="none" letter-spacing="0.25">F5</text>
<path d="M625.1 945.4H659.6Q661.6 945.4 661.6 947.4V986.7Q661.6 988.7 659.6 988.7H625.1Q623.1 988.7 623.1 986.7V947.4Q623.1 945.4 625.1 945.4Z" stroke="#222" stroke-width="0.7" fill="none" />
<path d="M651.7 945.4L651.7 988.7" stroke="#222" stroke-width="0.7" />
<path d="M641.4 945.4L623.5 967.05L641.4 988.7" stroke="#222" stroke-width="0.7" fill="none" />
<path d="M625.1 990.1H659.6Q661.6 990.1 661.6 992.1V1032.3Q661.6 1034.3 659.6 1034.3H625.1Q623.1 1034.3 623.1 1032.3V992.1Q623.1 990.1 625.1 990.1Z" stroke="#222" stroke-width="0.7" fill="none" />
<path d="M651.7 990.1L651.7 1034.3" stroke="#222" stroke-width="0.7" />
<path d="M641.4 990.1L623.5 1012.2L641.4 1034.3" stroke="#222" stroke-width="0.7" fill="none" />
<path d="M291.70000000000005 990.1V983.1Q291.70000000000005 980.3000000000001 294.5 980.3000000000001H301.70000000000005Q304.5 980.3000000000001 304.5 983.1V990.1" stroke="#222" stroke-width="0.7" fill="none" />
<circle cx="298.1" cy="1004.4" r="16.3" stroke="#222" stroke-width="0.7" fill="#fff"/>
<circle cx="298.1" cy="1004.4" r="14.8" stroke="#222" stroke-width="0.7" fill="none"/>
<circle cx="298.1" cy="1004.4" r="5.6" stroke="#222" stroke-width="0.7" fill="none"/>
<circle cx="298.1" cy="1004.4" r="2.6" stroke="#222" stroke-width="0.7" fill="none"/>
<path d="M279.8 1004.4L316.4 1004.4" stroke="#000" stroke-width="0.65" stroke-dasharray="8 2 2 2"/>
<path d="M298.1 986.1L298.1 1022.7" stroke="#000" stroke-width="0.65" stroke-dasharray="8 2 2 2"/>
<path d="M283.6 1019.8L285.1 1015.4H288.6M312.6 1019.8L311.1 1015.4H307.6" stroke="#222" stroke-width="0.7" fill="none" />
<rect x="273.1" y="1019.8" width="48.5" height="2.9" rx="0" stroke="#222" stroke-width="0.7" fill="none"/>
<path d="M280.1 1022.6999999999999v6M282.6 1022.6999999999999v6M313.1 1022.6999999999999v6M315.6 1022.6999999999999v6" stroke="#222" stroke-width="0.7" fill="none" />
<circle cx="365.5" cy="1004.4" r="19.1" stroke="#222" stroke-width="0.7" fill="none"/>
<path d="M340.5 1004.4L389.5 1004.4" stroke="#000" stroke-width="0.65" stroke-dasharray="8 2 2 2"/>
<path d="M365.5 980.4L365.5 1028.4" stroke="#000" stroke-width="0.65" stroke-dasharray="8 2 2 2"/>
<path d="M396.4 962.2H363C343 963 330.8 979 330.6 998C330.5 1011 337 1022 347.5 1028.2M396.4 1012.2H392.6C392 1019 387 1024.6 380 1028.2" stroke="#222" stroke-width="0.7" fill="none" />
<path d="M347.5 1028.2L351.5 1019.2M380 1028.2L376.5 1019.6" stroke="#222" stroke-width="0.7" fill="none" />
<rect x="395.6" y="962.6" width="4.9" height="49.6" rx="0" stroke="#222" stroke-width="0.6" fill="none"/>
<path d="M398.0 964.0L398.0 1011.0" stroke="#777" stroke-width="1.3" stroke-dasharray="8 2.5"/>
<path d="M400.9 959.3H417.5L420 961.8V1011.5L417.5 1013.7H400.9M418 959.3V1013.7" stroke="#222" stroke-width="0.7" fill="none" />
<rect x="278.2" y="1028.2" width="118.2" height="8.6" rx="0" stroke="#222" stroke-width="0.7" fill="none"/>
<path d="M278.2 1030.4L396.4 1030.4" stroke="#222" stroke-width="0.5" />
<path d="M278.2 1034.6L396.4 1034.6" stroke="#000" stroke-width="1.6" />
<path d="M293.0 1036.8V1039H291.40000000000003V1041.4M296.20000000000005 1036.8V1039H297.8V1041.4M291.40000000000003 1039H297.8" stroke="#222" stroke-width="0.7" fill="none" />
<path d="M390.7 1036.8V1039H389.1V1041.4M393.90000000000003 1036.8V1039H395.5V1041.4M389.1 1039H395.5" stroke="#222" stroke-width="0.7" fill="none" />
<circle cx="248.8" cy="1115.2" r="19.2" stroke="#222" stroke-width="0.7" fill="none"/>
<path d="M224.8 1115.2L274.8 1115.2" stroke="#000" stroke-width="0.65" stroke-dasharray="8 2 2 2"/>
<path d="M248.8 1091.2L248.8 1140.2" stroke="#000" stroke-width="0.65" stroke-dasharray="8 2 2 2"/>
<path d="M219.6 1073.6H251C271 1074.5 285.6 1091 285.4 1111C285.2 1122 280 1132 272 1138.4M219.6 1123H222C223.5 1125 224 1127.5 225.5 1130C227.2 1133.2 229.5 1136 232.5 1138.4" stroke="#222" stroke-width="0.7" fill="none" />
<path d="M236 1138.4C237.2 1134.5 239.5 1132 242.5 1131M255.5 1131C258.8 1132.3 261.2 1135 262.3 1138.4" stroke="#222" stroke-width="0.7" fill="none" />
<rect x="217.1" y="1138.4" width="117.6" height="8.6" rx="0" stroke="#222" stroke-width="0.7" fill="none"/>
<path d="M217.1 1140.6L334.7 1140.6" stroke="#222" stroke-width="0.5" />
<path d="M217.1 1145.2L334.7 1145.2" stroke="#000" stroke-width="1.6" />
<path d="M219.1 1147V1150H217.5V1153.8M222.29999999999998 1147V1150H223.89999999999998V1153.8M217.5 1150H223.89999999999998" stroke="#222" stroke-width="0.7" fill="none" />
<path d="M317.2 1147V1150H315.6V1153.8M320.40000000000003 1147V1150H322.0V1153.8M315.6 1150H322.0" stroke="#222" stroke-width="0.7" fill="none" />
<path d="M308.40000000000003 1101.0V1094.0Q308.40000000000003 1091.2 311.2 1091.2H318.40000000000003Q321.2 1091.2 321.2 1094.0V1101.0" stroke="#222" stroke-width="0.7" fill="none" />
<circle cx="314.8" cy="1115.2" r="16.2" stroke="#222" stroke-width="0.7" fill="#fff"/>
<circle cx="314.8" cy="1115.2" r="14.7" stroke="#222" stroke-width="0.7" fill="none"/>
<circle cx="314.8" cy="1115.2" r="5.6" stroke="#222" stroke-width="0.7" fill="none"/>
<circle cx="314.8" cy="1115.2" r="2.6" stroke="#222" stroke-width="0.7" fill="none"/>
<path d="M296.6 1115.2L333.0 1115.2" stroke="#000" stroke-width="0.65" stroke-dasharray="8 2 2 2"/>
<path d="M314.8 1097.0L314.8 1133.4" stroke="#000" stroke-width="0.65" stroke-dasharray="8 2 2 2"/>
<path d="M300.3 1130.5L301.8 1126.2H305.3M329.3 1130.5L327.8 1126.2H324.3" stroke="#222" stroke-width="0.7" fill="none" />
<rect x="292.3" y="1130.5" width="48.5" height="2.9" rx="0" stroke="#222" stroke-width="0.7" fill="none"/>
<path d="M296.8 1133.4v6M299.3 1133.4v6M329.8 1133.4v6M332.3 1133.4v6" stroke="#222" stroke-width="0.7" fill="none" />
<path d="M356.3 1052.2L356.3 1156.0" stroke="#222" stroke-width="0.7" />
<path d="M358.4 1052.2L358.4 1156.0" stroke="#666" stroke-width="0.6" />
<path d="M361.5 1052.2L361.5 1156.0" stroke="#666" stroke-width="0.6" />
<path d="M363.6 1052.2L363.6 1156.0" stroke="#666" stroke-width="0.6" />
<path d="M366.6 1052.2L366.6 1156.0" stroke="#666" stroke-width="0.6" />
<path d="M368.6 1052.2L368.6 1156.0" stroke="#222" stroke-width="0.7" />
<path d="M356.3 1052.2L368.6 1052.2" stroke="#222" stroke-width="0.6" />
<path d="M356.3 1156.0L368.6 1156.0" stroke="#222" stroke-width="0.6" />
<path d="M376.2 1052H399L400.6 1153.2H378.6Z" stroke="#222" stroke-width="0.7" fill="none" />
<path d="M377.2 1053L399.8 1152.4M378.4 1053L400.4 1151.5M398.2 1053L379.2 1152.6M397.2 1053L378.8 1151.6" stroke="#222" stroke-width="0.5" fill="none" />
<circle cx="388.6" cy="1102.8" r="6.5" stroke="#222" stroke-width="0.7" fill="#fff"/>
<path d="M386.4 1101.8H390.8M388.6 1099.6V1104M386.4 1105.4H390.8" stroke="#222" stroke-width="0.55" fill="none" />
<circle cx="382.4" cy="1057.2" r="2.9" stroke="#222" stroke-width="0.7" fill="none"/>
<circle cx="396.4" cy="1148.4" r="2.9" stroke="#222" stroke-width="0.7" fill="none"/>
<path d="M442.7 938.6L442.7 1041.4" stroke="#999" stroke-width="1.0" />
<path d="M453.2 938.6L453.2 1041.4" stroke="#999" stroke-width="1.0" />
<circle cx="447.8" cy="949.8" r="4.4" stroke="#111" stroke-width="0.85" fill="none"/>
<circle cx="447.8" cy="949.8" r="1.7" stroke="#222" stroke-width="0.75" fill="none"/>
<path d="M446.6 951.0L449.0 948.6" stroke="#333" stroke-width="0.5" />
<path d="M439.3 949.8L443.5 949.8" stroke="#333" stroke-width="0.6" />
<path d="M452.0 949.8L454.8 949.8" stroke="#333" stroke-width="0.6" />
<circle cx="447.8" cy="958.9" r="4.4" stroke="#111" stroke-width="0.85" fill="none"/>
<circle cx="447.8" cy="958.9" r="1.7" stroke="#222" stroke-width="0.75" fill="none"/>
<path d="M446.6 960.1L449.0 957.7" stroke="#333" stroke-width="0.5" />
<path d="M439.3 958.9L443.5 958.9" stroke="#333" stroke-width="0.6" />
<path d="M452.0 958.9L454.8 958.9" stroke="#333" stroke-width="0.6" />
<circle cx="447.8" cy="967.9" r="4.4" stroke="#111" stroke-width="0.85" fill="none"/>
<circle cx="447.8" cy="967.9" r="1.7" stroke="#222" stroke-width="0.75" fill="none"/>
<path d="M446.6 969.1L449.0 966.7" stroke="#333" stroke-width="0.5" />
<path d="M439.3 967.9L443.5 967.9" stroke="#333" stroke-width="0.6" />
<path d="M452.0 967.9L454.8 967.9" stroke="#333" stroke-width="0.6" />
<circle cx="447.8" cy="977.0" r="4.4" stroke="#111" stroke-width="0.85" fill="none"/>
<circle cx="447.8" cy="977.0" r="1.7" stroke="#222" stroke-width="0.75" fill="none"/>
<path d="M446.6 978.2L449.0 975.8" stroke="#333" stroke-width="0.5" />
<path d="M439.3 977.0L443.5 977.0" stroke="#333" stroke-width="0.6" />
<path d="M452.0 977.0L454.8 977.0" stroke="#333" stroke-width="0.6" />
<circle cx="447.8" cy="986.1" r="4.4" stroke="#111" stroke-width="0.85" fill="none"/>
<circle cx="447.8" cy="986.1" r="1.7" stroke="#222" stroke-width="0.75" fill="none"/>
<path d="M446.6 987.3L449.0 984.9" stroke="#333" stroke-width="0.5" />
<path d="M439.3 986.1L443.5 986.1" stroke="#333" stroke-width="0.6" />
<path d="M452.0 986.1L454.8 986.1" stroke="#333" stroke-width="0.6" />
<circle cx="447.8" cy="995.1" r="4.4" stroke="#111" stroke-width="0.85" fill="none"/>
<circle cx="447.8" cy="995.1" r="1.7" stroke="#222" stroke-width="0.75" fill="none"/>
<path d="M446.6 996.4L449.0 993.9" stroke="#333" stroke-width="0.5" />
<path d="M439.3 995.1L443.5 995.1" stroke="#333" stroke-width="0.6" />
<path d="M452.0 995.1L454.8 995.1" stroke="#333" stroke-width="0.6" />
<circle cx="447.8" cy="1004.2" r="4.4" stroke="#111" stroke-width="0.85" fill="none"/>
<circle cx="447.8" cy="1004.2" r="1.7" stroke="#222" stroke-width="0.75" fill="none"/>
<path d="M446.6 1005.4L449.0 1003.0" stroke="#333" stroke-width="0.5" />
<path d="M439.3 1004.2L443.5 1004.2" stroke="#333" stroke-width="0.6" />
<path d="M452.0 1004.2L454.8 1004.2" stroke="#333" stroke-width="0.6" />
<circle cx="447.8" cy="1013.3" r="4.4" stroke="#111" stroke-width="0.85" fill="none"/>
<circle cx="447.8" cy="1013.3" r="1.7" stroke="#222" stroke-width="0.75" fill="none"/>
<path d="M446.6 1014.5L449.0 1012.1" stroke="#333" stroke-width="0.5" />
<path d="M439.3 1013.3L443.5 1013.3" stroke="#333" stroke-width="0.6" />
<path d="M452.0 1013.3L454.8 1013.3" stroke="#333" stroke-width="0.6" />
<circle cx="447.8" cy="1022.4" r="4.4" stroke="#111" stroke-width="0.85" fill="none"/>
<circle cx="447.8" cy="1022.4" r="1.7" stroke="#222" stroke-width="0.75" fill="none"/>
<path d="M446.6 1023.6L449.0 1021.2" stroke="#333" stroke-width="0.5" />
<path d="M439.3 1022.4L443.5 1022.4" stroke="#333" stroke-width="0.6" />
<path d="M452.0 1022.4L454.8 1022.4" stroke="#333" stroke-width="0.6" />
<circle cx="447.8" cy="1031.4" r="4.4" stroke="#111" stroke-width="0.85" fill="none"/>
<circle cx="447.8" cy="1031.4" r="1.7" stroke="#222" stroke-width="0.75" fill="none"/>
<path d="M446.6 1032.6L449.0 1030.2" stroke="#333" stroke-width="0.5" />
<path d="M439.3 1031.4L443.5 1031.4" stroke="#333" stroke-width="0.6" />
<path d="M452.0 1031.4L454.8 1031.4" stroke="#333" stroke-width="0.6" />
<path d="M443.3 952.835L445.1 954.335L443.3 955.835Z" stroke="#222" stroke-width="0.3" fill="#333" />
<path d="M452.59999999999997 952.835L450.5 954.335L452.59999999999997 955.835Z" stroke="#222" stroke-width="0.3" fill="#333" />
<path d="M443.3 961.905L445.1 963.405L443.3 964.905Z" stroke="#222" stroke-width="0.3" fill="#333" />
<path d="M452.59999999999997 961.905L450.5 963.405L452.59999999999997 964.905Z" stroke="#222" stroke-width="0.3" fill="#333" />
<path d="M443.3 970.9749999999999L445.1 972.4749999999999L443.3 973.9749999999999Z" stroke="#222" stroke-width="0.3" fill="#333" />
<path d="M452.59999999999997 970.9749999999999L450.5 972.4749999999999L452.59999999999997 973.9749999999999Z" stroke="#222" stroke-width="0.3" fill="#333" />
<path d="M443.3 980.045L445.1 981.545L443.3 983.045Z" stroke="#222" stroke-width="0.3" fill="#333" />
<path d="M452.59999999999997 980.045L450.5 981.545L452.59999999999997 983.045Z" stroke="#222" stroke-width="0.3" fill="#333" />
<path d="M443.3 989.115L445.1 990.615L443.3 992.115Z" stroke="#222" stroke-width="0.3" fill="#333" />
<path d="M452.59999999999997 989.115L450.5 990.615L452.59999999999997 992.115Z" stroke="#222" stroke-width="0.3" fill="#333" />
<path d="M443.3 998.185L445.1 999.685L443.3 1001.185Z" stroke="#222" stroke-width="0.3" fill="#333" />
<path d="M452.59999999999997 998.185L450.5 999.685L452.59999999999997 1001.185Z" stroke="#222" stroke-width="0.3" fill="#333" />
<path d="M443.3 1007.2549999999999L445.1 1008.7549999999999L443.3 1010.2549999999999Z" stroke="#222" stroke-width="0.3" fill="#333" />
<path d="M452.59999999999997 1007.2549999999999L450.5 1008.7549999999999L452.59999999999997 1010.2549999999999Z" stroke="#222" stroke-width="0.3" fill="#333" />
<path d="M443.3 1016.3249999999999L445.1 1017.8249999999999L443.3 1019.3249999999999Z" stroke="#222" stroke-width="0.3" fill="#333" />
<path d="M452.59999999999997 1016.3249999999999L450.5 1017.8249999999999L452.59999999999997 1019.3249999999999Z" stroke="#222" stroke-width="0.3" fill="#333" />
<path d="M443.3 1025.395L445.1 1026.895L443.3 1028.395Z" stroke="#222" stroke-width="0.3" fill="#333" />
<path d="M452.59999999999997 1025.395L450.5 1026.895L452.59999999999997 1028.395Z" stroke="#222" stroke-width="0.3" fill="#333" />
<path d="M443.0 942.5L453.0 942.5" stroke="#333" stroke-width="0.6" />
<path d="M442.7 1050.3L442.7 1153.8" stroke="#999" stroke-width="1.0" />
<path d="M453.2 1050.3L453.2 1153.8" stroke="#999" stroke-width="1.0" />
<circle cx="447.8" cy="1060.1" r="4.4" stroke="#111" stroke-width="0.85" fill="none"/>
<circle cx="447.8" cy="1060.1" r="1.7" stroke="#222" stroke-width="0.75" fill="none"/>
<path d="M446.6 1061.3L449.0 1058.9" stroke="#333" stroke-width="0.5" />
<path d="M439.3 1060.1L443.5 1060.1" stroke="#333" stroke-width="0.6" />
<path d="M452.0 1060.1L454.8 1060.1" stroke="#333" stroke-width="0.6" />
<circle cx="447.8" cy="1069.2" r="4.4" stroke="#111" stroke-width="0.85" fill="none"/>
<circle cx="447.8" cy="1069.2" r="1.7" stroke="#222" stroke-width="0.75" fill="none"/>
<path d="M446.6 1070.4L449.0 1068.0" stroke="#333" stroke-width="0.5" />
<path d="M439.3 1069.2L443.5 1069.2" stroke="#333" stroke-width="0.6" />
<path d="M452.0 1069.2L454.8 1069.2" stroke="#333" stroke-width="0.6" />
<circle cx="447.8" cy="1078.3" r="4.4" stroke="#111" stroke-width="0.85" fill="none"/>
<circle cx="447.8" cy="1078.3" r="1.7" stroke="#222" stroke-width="0.75" fill="none"/>
<path d="M446.6 1079.5L449.0 1077.1" stroke="#333" stroke-width="0.5" />
<path d="M439.3 1078.3L443.5 1078.3" stroke="#333" stroke-width="0.6" />
<path d="M452.0 1078.3L454.8 1078.3" stroke="#333" stroke-width="0.6" />
<circle cx="447.8" cy="1087.4" r="4.4" stroke="#111" stroke-width="0.85" fill="none"/>
<circle cx="447.8" cy="1087.4" r="1.7" stroke="#222" stroke-width="0.75" fill="none"/>
<path d="M446.6 1088.6L449.0 1086.2" stroke="#333" stroke-width="0.5" />
<path d="M439.3 1087.4L443.5 1087.4" stroke="#333" stroke-width="0.6" />
<path d="M452.0 1087.4L454.8 1087.4" stroke="#333" stroke-width="0.6" />
<circle cx="447.8" cy="1096.5" r="4.4" stroke="#111" stroke-width="0.85" fill="none"/>
<circle cx="447.8" cy="1096.5" r="1.7" stroke="#222" stroke-width="0.75" fill="none"/>
<path d="M446.6 1097.7L449.0 1095.3" stroke="#333" stroke-width="0.5" />
<path d="M439.3 1096.5L443.5 1096.5" stroke="#333" stroke-width="0.6" />
<path d="M452.0 1096.5L454.8 1096.5" stroke="#333" stroke-width="0.6" />
<circle cx="447.8" cy="1105.6" r="4.4" stroke="#111" stroke-width="0.85" fill="none"/>
<circle cx="447.8" cy="1105.6" r="1.7" stroke="#222" stroke-width="0.75" fill="none"/>
<path d="M446.6 1106.8L449.0 1104.4" stroke="#333" stroke-width="0.5" />
<path d="M439.3 1105.6L443.5 1105.6" stroke="#333" stroke-width="0.6" />
<path d="M452.0 1105.6L454.8 1105.6" stroke="#333" stroke-width="0.6" />
<circle cx="447.8" cy="1114.7" r="4.4" stroke="#111" stroke-width="0.85" fill="none"/>
<circle cx="447.8" cy="1114.7" r="1.7" stroke="#222" stroke-width="0.75" fill="none"/>
<path d="M446.6 1115.9L449.0 1113.5" stroke="#333" stroke-width="0.5" />
<path d="M439.3 1114.7L443.5 1114.7" stroke="#333" stroke-width="0.6" />
<path d="M452.0 1114.7L454.8 1114.7" stroke="#333" stroke-width="0.6" />
<circle cx="447.8" cy="1123.8" r="4.4" stroke="#111" stroke-width="0.85" fill="none"/>
<circle cx="447.8" cy="1123.8" r="1.7" stroke="#222" stroke-width="0.75" fill="none"/>
<path d="M446.6 1125.0L449.0 1122.6" stroke="#333" stroke-width="0.5" />
<path d="M439.3 1123.8L443.5 1123.8" stroke="#333" stroke-width="0.6" />
<path d="M452.0 1123.8L454.8 1123.8" stroke="#333" stroke-width="0.6" />
<circle cx="447.8" cy="1132.9" r="4.4" stroke="#111" stroke-width="0.85" fill="none"/>
<circle cx="447.8" cy="1132.9" r="1.7" stroke="#222" stroke-width="0.75" fill="none"/>
<path d="M446.6 1134.1L449.0 1131.7" stroke="#333" stroke-width="0.5" />
<path d="M439.3 1132.9L443.5 1132.9" stroke="#333" stroke-width="0.6" />
<path d="M452.0 1132.9L454.8 1132.9" stroke="#333" stroke-width="0.6" />
<circle cx="447.8" cy="1142.0" r="4.4" stroke="#111" stroke-width="0.85" fill="none"/>
<circle cx="447.8" cy="1142.0" r="1.7" stroke="#222" stroke-width="0.75" fill="none"/>
<path d="M446.6 1143.2L449.0 1140.8" stroke="#333" stroke-width="0.5" />
<path d="M439.3 1142.0L443.5 1142.0" stroke="#333" stroke-width="0.6" />
<path d="M452.0 1142.0L454.8 1142.0" stroke="#333" stroke-width="0.6" />
<path d="M443.3 1063.1499999999999L445.1 1064.6499999999999L443.3 1066.1499999999999Z" stroke="#222" stroke-width="0.3" fill="#333" />
<path d="M452.59999999999997 1063.1499999999999L450.5 1064.6499999999999L452.59999999999997 1066.1499999999999Z" stroke="#222" stroke-width="0.3" fill="#333" />
<path d="M443.3 1072.25L445.1 1073.75L443.3 1075.25Z" stroke="#222" stroke-width="0.3" fill="#333" />
<path d="M452.59999999999997 1072.25L450.5 1073.75L452.59999999999997 1075.25Z" stroke="#222" stroke-width="0.3" fill="#333" />
<path d="M443.3 1081.35L445.1 1082.85L443.3 1084.35Z" stroke="#222" stroke-width="0.3" fill="#333" />
<path d="M452.59999999999997 1081.35L450.5 1082.85L452.59999999999997 1084.35Z" stroke="#222" stroke-width="0.3" fill="#333" />
<path d="M443.3 1090.4499999999998L445.1 1091.9499999999998L443.3 1093.4499999999998Z" stroke="#222" stroke-width="0.3" fill="#333" />
<path d="M452.59999999999997 1090.4499999999998L450.5 1091.9499999999998L452.59999999999997 1093.4499999999998Z" stroke="#222" stroke-width="0.3" fill="#333" />
<path d="M443.3 1099.55L445.1 1101.05L443.3 1102.55Z" stroke="#222" stroke-width="0.3" fill="#333" />
<path d="M452.59999999999997 1099.55L450.5 1101.05L452.59999999999997 1102.55Z" stroke="#222" stroke-width="0.3" fill="#333" />
<path d="M443.3 1108.6499999999999L445.1 1110.1499999999999L443.3 1111.6499999999999Z" stroke="#222" stroke-width="0.3" fill="#333" />
<path d="M452.59999999999997 1108.6499999999999L450.5 1110.1499999999999L452.59999999999997 1111.6499999999999Z" stroke="#222" stroke-width="0.3" fill="#333" />
<path d="M443.3 1117.75L445.1 1119.25L443.3 1120.75Z" stroke="#222" stroke-width="0.3" fill="#333" />
<path d="M452.59999999999997 1117.75L450.5 1119.25L452.59999999999997 1120.75Z" stroke="#222" stroke-width="0.3" fill="#333" />
<path d="M443.3 1126.85L445.1 1128.35L443.3 1129.85Z" stroke="#222" stroke-width="0.3" fill="#333" />
<path d="M452.59999999999997 1126.85L450.5 1128.35L452.59999999999997 1129.85Z" stroke="#222" stroke-width="0.3" fill="#333" />
<path d="M443.3 1135.9499999999998L445.1 1137.4499999999998L443.3 1138.9499999999998Z" stroke="#222" stroke-width="0.3" fill="#333" />
<path d="M452.59999999999997 1135.9499999999998L450.5 1137.4499999999998L452.59999999999997 1138.9499999999998Z" stroke="#222" stroke-width="0.3" fill="#333" />
<path d="M443.0 1147.0L452.7 1147.0" stroke="#222" stroke-width="0.5" />
<path d="M443.0 1150.2L452.7 1150.2" stroke="#222" stroke-width="0.5" />
<path d="M402.6 1059.6H439.3" stroke="#222" stroke-width="0.7" fill="none" />
<circle cx="408.9" cy="1055.3" r="4.4" stroke="#111" stroke-width="0.85" fill="none"/>
<circle cx="408.9" cy="1055.3" r="1.6" stroke="#222" stroke-width="0.7" fill="none"/>
<path d="M408.9 1049.9L408.9 1062.5" stroke="#333" stroke-width="0.6" />
<circle cx="418.1" cy="1055.3" r="4.4" stroke="#111" stroke-width="0.85" fill="none"/>
<circle cx="418.1" cy="1055.3" r="1.6" stroke="#222" stroke-width="0.7" fill="none"/>
<path d="M418.1 1049.9L418.1 1062.5" stroke="#333" stroke-width="0.6" />
<circle cx="427.3" cy="1055.3" r="4.4" stroke="#111" stroke-width="0.85" fill="none"/>
<circle cx="427.3" cy="1055.3" r="1.6" stroke="#222" stroke-width="0.7" fill="none"/>
<path d="M427.3 1049.9L427.3 1062.5" stroke="#333" stroke-width="0.6" />
<circle cx="436.1" cy="1055.3" r="4.4" stroke="#111" stroke-width="0.85" fill="none"/>
<circle cx="436.1" cy="1055.3" r="1.6" stroke="#222" stroke-width="0.7" fill="none"/>
<path d="M436.1 1049.9L436.1 1062.5" stroke="#333" stroke-width="0.6" />
<path d="M411.9 1059.9L413.5 1057.3L415.1 1059.9Z" stroke="#000" stroke-width="0.3" fill="#111" />
<path d="M421.1 1059.9L422.70000000000005 1057.3L424.30000000000007 1059.9Z" stroke="#000" stroke-width="0.3" fill="#111" />
<path d="M430.1 1059.9L431.70000000000005 1057.3L433.30000000000007 1059.9Z" stroke="#000" stroke-width="0.3" fill="#111" />
<path d="M-2.2 -3.9H0V-7.2L4.2 0L0 7.2V3.9H-2.2Z" stroke="#222" stroke-width="0.7" fill="none" transform="translate(417.3 1067.8) rotate(109)"/>
<path d="M460.9 1041.4L530.8 974.2L534.2 976.8L465.9 1041.4" stroke="#222" stroke-width="0.7" fill="none" />
<path d="M534.9 976.2L537.8 976.6" stroke="#222" stroke-width="0.7" fill="none" />
<path d="M538.0 976.6L606.0 1042.0" stroke="#222" stroke-width="0.8" />
<path d="M539.7 974.9L607.7 1040.3" stroke="#444" stroke-width="0.6" />
<path d="M540.8 973.8L608.8 1039.2" stroke="#444" stroke-width="0.6" />
<path d="M542.0 972.6L610.0 1038.0" stroke="#444" stroke-width="0.6" />
<path d="M543.9 970.7L611.9 1036.1" stroke="#222" stroke-width="0.8" />
<path d="M538 976.6L544 970.6M606 1042L613.6 1034.6L612 1032.6" stroke="#222" stroke-width="0.7" fill="none" />
<path d="M540.5 969.5L548 962.3L556.5 971.5L551 976.5Z" stroke="#222" stroke-width="0.7" fill="none" />
<rect x="552" y="967.8" width="8.4" height="5.2" rx="2.4" transform="rotate(38 556 970)" stroke="#222" stroke-width="0.7" fill="#fff"/>
<path d="M465.6 1050.4L535.5 1116.8" stroke="#222" stroke-width="0.7" />
<path d="M608.3 1050.4L538.2 1117M604.8 1050.4L535.5 1116.8M538.2 1117L542.5 1123.3" stroke="#222" stroke-width="0.7" fill="none" />
<path d="M465.6 1045.8L605.8 1045.8" stroke="#aaa" stroke-width="1.3" stroke-dasharray="16.5 12.5" stroke-dashoffset="-16"/>
<path d="M467.1 988.5C486 989.2 503.5 996.5 513.5 1007.2L513.2 1001.2L516.8 1013.6L506.8 1013.6L509.9 1010.6C501 1001.8 486 994.6 468.2 993.2Z" stroke="#222" stroke-width="0.75" fill="none" />
<path d="M601.7 988.5C582.8 989.2 565.3 996.5 555.3 1007.2L555.6 1001.2L552 1013.6L562 1013.6L558.9 1010.6C567.8 1001.8 582.8 994.6 600.6 993.2Z" stroke="#222" stroke-width="0.75" fill="none" />
<path d="M515.6 1078C507 1090 492 1096.5 472 1097.6" stroke="#000" stroke-width="3.2" fill="none" />
<path d="M465.2 1097.8L472.6 1091.2L472.9 1104.4Z" stroke="#000" stroke-width="0.3" fill="#000" />
<path d="M554.2 1078C562.8 1090 577.8 1096.5 597.8 1097.6" stroke="#000" stroke-width="3.2" fill="none" />
<path d="M604.8 1097.8L597.4 1091.2L597.1 1104.4Z" stroke="#000" stroke-width="0.3" fill="#000" />
<path d="M624.6 1054.5L624.6 1152.5" stroke="#222" stroke-width="0.6" stroke-dasharray="9 3.5"/>
<path d="M626.3 1057.5L626.3 1152.5" stroke="#999" stroke-width="1.0" stroke-dasharray="9 3.5"/>
<path d="M630.3 1060.5L630.3 1152.5" stroke="#999" stroke-width="1.0" stroke-dasharray="9 3.5"/>
<path d="M632.8 1054.5L632.8 1152.5" stroke="#222" stroke-width="0.6" stroke-dasharray="9 3.5"/>
<path d="M635.0 1057.5L635.0 1152.5" stroke="#999" stroke-width="1.0" stroke-dasharray="9 3.5"/>
<path d="M637.6 1060.5L637.6 1152.5" stroke="#222" stroke-width="0.6" stroke-dasharray="9 3.5"/>
<path d="M624.6 1054.5H630.3M632.8 1054.5H637.6" stroke="#222" stroke-width="0.6" fill="none" />
<path d="M626.3 1152.5H635" stroke="#222" stroke-width="0.6" fill="none" />
<path d="M212.4 911.4L400.9 911.4" stroke="#111" stroke-width="0.85" />
<path d="M453.7 911.4L670.2 911.4" stroke="#111" stroke-width="0.85" />
<circle cx="212.4" cy="911.4" r="1.75" fill="#000" stroke="none"/>
<circle cx="263.8" cy="911.4" r="1.75" fill="#000" stroke="none"/>
<circle cx="400.9" cy="911.4" r="1.75" fill="#000" stroke="none"/>
<circle cx="453.7" cy="911.4" r="1.75" fill="#000" stroke="none"/>
<circle cx="615.0" cy="911.4" r="1.75" fill="#000" stroke="none"/>
<circle cx="670.2" cy="911.4" r="1.75" fill="#000" stroke="none"/>
<path d="M212.4 903.0L212.4 933.6" stroke="#333" stroke-width="0.6" />
<path d="M263.8 903.0L263.8 938.6" stroke="#555" stroke-width="0.7" />
<path d="M670.2 911.4L670.2 933.6" stroke="#333" stroke-width="0.6" />
<text x="242.2" y="909.2" font-size="8.3" text-anchor="middle" fill="#111" stroke="none" letter-spacing="0.25">610</text>
<text x="329.0" y="909.2" font-size="8.3" text-anchor="middle" fill="#111" stroke="none" letter-spacing="0.25">L1</text>
<text x="543.2" y="909.2" font-size="8.3" text-anchor="middle" fill="#111" stroke="none" letter-spacing="0.25">L4</text>
<text x="637.8" y="909.2" font-size="8.3" text-anchor="middle" fill="#111" stroke="none" letter-spacing="0.25">610</text>
<path d="M171.0 933.6L207.0 933.6" stroke="#555" stroke-width="0.6" />
<circle cx="174.3" cy="933.6" r="1.75" fill="#000" stroke="none"/>
<path d="M174.3 933.6L174.3 1162.4" stroke="#111" stroke-width="0.85" />
<circle cx="174.3" cy="1162.4" r="1.75" fill="#000" stroke="none"/>
<path d="M171.3 1162.4L206.2 1162.4" stroke="#555" stroke-width="0.6" />
<text x="172.0" y="1047.1" font-size="9.5" text-anchor="middle" fill="#111" stroke="none" letter-spacing="0.3" transform="rotate(-90 172.0 1047.1)">H2XB1</text>
<path d="M674.3 1165.4L674.3 1208.8" stroke="#888" stroke-width="1.2" />
<path d="M196.0 1187.6L689.5 1187.6" stroke="#111" stroke-width="0.85" />
<circle cx="209.3" cy="1187.6" r="1.75" fill="#000" stroke="none"/>
<circle cx="213.9" cy="1187.6" r="1.75" fill="#000" stroke="none"/>
<circle cx="348.7" cy="1187.6" r="1.75" fill="#000" stroke="none"/>
<circle cx="400.9" cy="1187.6" r="1.75" fill="#000" stroke="none"/>
<circle cx="453.5" cy="1187.6" r="1.75" fill="#000" stroke="none"/>
<circle cx="643.8" cy="1187.6" r="1.75" fill="#000" stroke="none"/>
<circle cx="669.6" cy="1187.6" r="1.75" fill="#000" stroke="none"/>
<circle cx="674.3" cy="1187.6" r="1.75" fill="#000" stroke="none"/>
<path d="M181.6 1204.6L702.0 1204.6" stroke="#111" stroke-width="0.85" />
<circle cx="199.5" cy="1204.6" r="1.75" fill="#000" stroke="none"/>
<circle cx="209.3" cy="1204.6" r="1.75" fill="#000" stroke="none"/>
<circle cx="674.3" cy="1204.6" r="1.75" fill="#000" stroke="none"/>
<circle cx="686.5" cy="1204.6" r="1.75" fill="#000" stroke="none"/>
<path d="M199.5 1190.2L199.5 1206.6" stroke="#333" stroke-width="0.6" />
<path d="M209.3 1165.5L209.3 1206.6" stroke="#333" stroke-width="0.7" />
<path d="M213.9 1165.5L213.9 1192.2" stroke="#333" stroke-width="0.6" />
<path d="M453.5 1165.0L453.5 1192.2" stroke="#333" stroke-width="0.7" />
<path d="M643.8 1170.0L643.8 1192.6" stroke="#333" stroke-width="0.6" />
<path d="M669.6 1170.0L669.6 1192.6" stroke="#333" stroke-width="0.6" />
<path d="M686.5 1190.0L686.5 1208.3" stroke="#333" stroke-width="0.6" />
<path d="M686.3 1050.2L686.3 1157.0" stroke="#777" stroke-width="0.6" />
<text x="207.6" y="1185.0" font-size="8.3" text-anchor="end" fill="#111" stroke="none" letter-spacing="0.25">25</text>
<text x="281.9" y="1185.0" font-size="8.3" text-anchor="middle" fill="#111" stroke="none" letter-spacing="0.25">L1</text>
<text x="379.9" y="1185.0" font-size="8.3" text-anchor="middle" fill="#111" stroke="none" letter-spacing="0.25">610</text>
<text x="426.6" y="1185.0" font-size="8.3" text-anchor="middle" fill="#111" stroke="none" letter-spacing="0.25">L2</text>
<text x="547.9" y="1185.0" font-size="8.3" text-anchor="middle" fill="#111" stroke="none" letter-spacing="0.25">L3</text>
<text x="656.2" y="1184.8" font-size="8.3" text-anchor="middle" fill="#111" stroke="none" letter-spacing="0.25">305</text>
<text x="676.9" y="1184.8" font-size="8.3" text-anchor="start" fill="#111" stroke="none" letter-spacing="0.25">25</text>
<text x="194.4" y="1200.6" font-size="8.3" text-anchor="end" fill="#111" stroke="none" letter-spacing="0.25">130</text>
<text x="394.6" y="1201.2" font-size="8.3" text-anchor="middle" fill="#111" stroke="none" letter-spacing="0.25">L</text>
<text x="690.3" y="1201.7" font-size="8.3" text-anchor="start" fill="#111" stroke="none" letter-spacing="0.25">130</text>
</svg>

<svg style="left:0;top:0" width="1265" height="1719" viewBox="0 0 1265 1719">
<path fill-rule="evenodd" fill="#fff" d="M909 1581.4a85 14.4 0 1 0 170 0a85 14.4 0 1 0 -170 0ZM922.2 1577.1a71.5 8.1 0 1 0 143 0a71.5 8.1 0 1 0 -143 0Z"/>
<clipPath id="ycl"><rect x="930" y="1550" width="130" height="25.5"/></clipPath>
<g clip-path="url(#ycl)"><g transform="translate(993.6 1598.8) scale(2.36 1)"><text x="0" y="0" text-anchor="middle" font-size="54.6" fill="#27ff3e" stroke="#27ff3e" stroke-width="4.2" style="font-family:'Liberation Sans',sans-serif">Y</text></g></g>
<path d="M966 1560H1022L994 1577Z" fill="#27ff3e"/>
<g transform="translate(993.6 1598.8) scale(2.36 1)"><text x="0" y="0" text-anchor="middle" font-size="54.6" fill="#fff" stroke="#fff" stroke-width="1.1" style="font-family:'Liberation Sans',sans-serif">Y</text></g>
<text x="888.3" y="1589.6" text-anchor="middle" font-size="23" fill="#fff" style="font-family:'Noto Sans CJK SC','WenQuanYi Zen Hei',sans-serif">气</text>
<text x="1100.5" y="1589.6" text-anchor="middle" font-size="23" fill="#fff" style="font-family:'Noto Sans CJK SC','WenQuanYi Zen Hei',sans-serif">宇</text>
<path d="M148 1589.4H170" stroke="#fff" stroke-width="1.3"/>
<g transform="translate(169 1605.6) skewX(-14) scale(1.56 1)"><text x="0" y="0" font-size="47" font-weight="bold" font-style="italic" fill="#c0ffc4" stroke="#111" stroke-width="5.6" stroke-linejoin="round" letter-spacing="1" style="font-family:'Liberation Sans',sans-serif">AT</text><text x="0" y="0" font-size="47" font-weight="bold" font-style="italic" fill="#c0ffc4" stroke="#b8ffbc" stroke-width="4.2" stroke-linejoin="round" letter-spacing="1" style="font-family:'Liberation Sans',sans-serif">AT</text></g>
<g transform="translate(173.5 1601.6) skewX(-14) scale(1.56 1)"><text x="0" y="0" font-size="47" font-weight="bold" font-style="italic" fill="#fff" stroke="#fff" stroke-width="5" stroke-linejoin="round" letter-spacing="1" style="font-family:'Liberation Sans',sans-serif">AT</text></g>
<path d="M268 1589.8C277 1590.5 284 1588 289 1580" stroke="#fff" stroke-width="1.2" fill="none"/>
<text x="284" y="1587.2" font-size="46" font-style="italic" fill="#fff" stroke="#fff" stroke-width="0.9" letter-spacing="0.4" style="font-family:'Liberation Serif',serif">plus</text>
</svg>

</body></html>
